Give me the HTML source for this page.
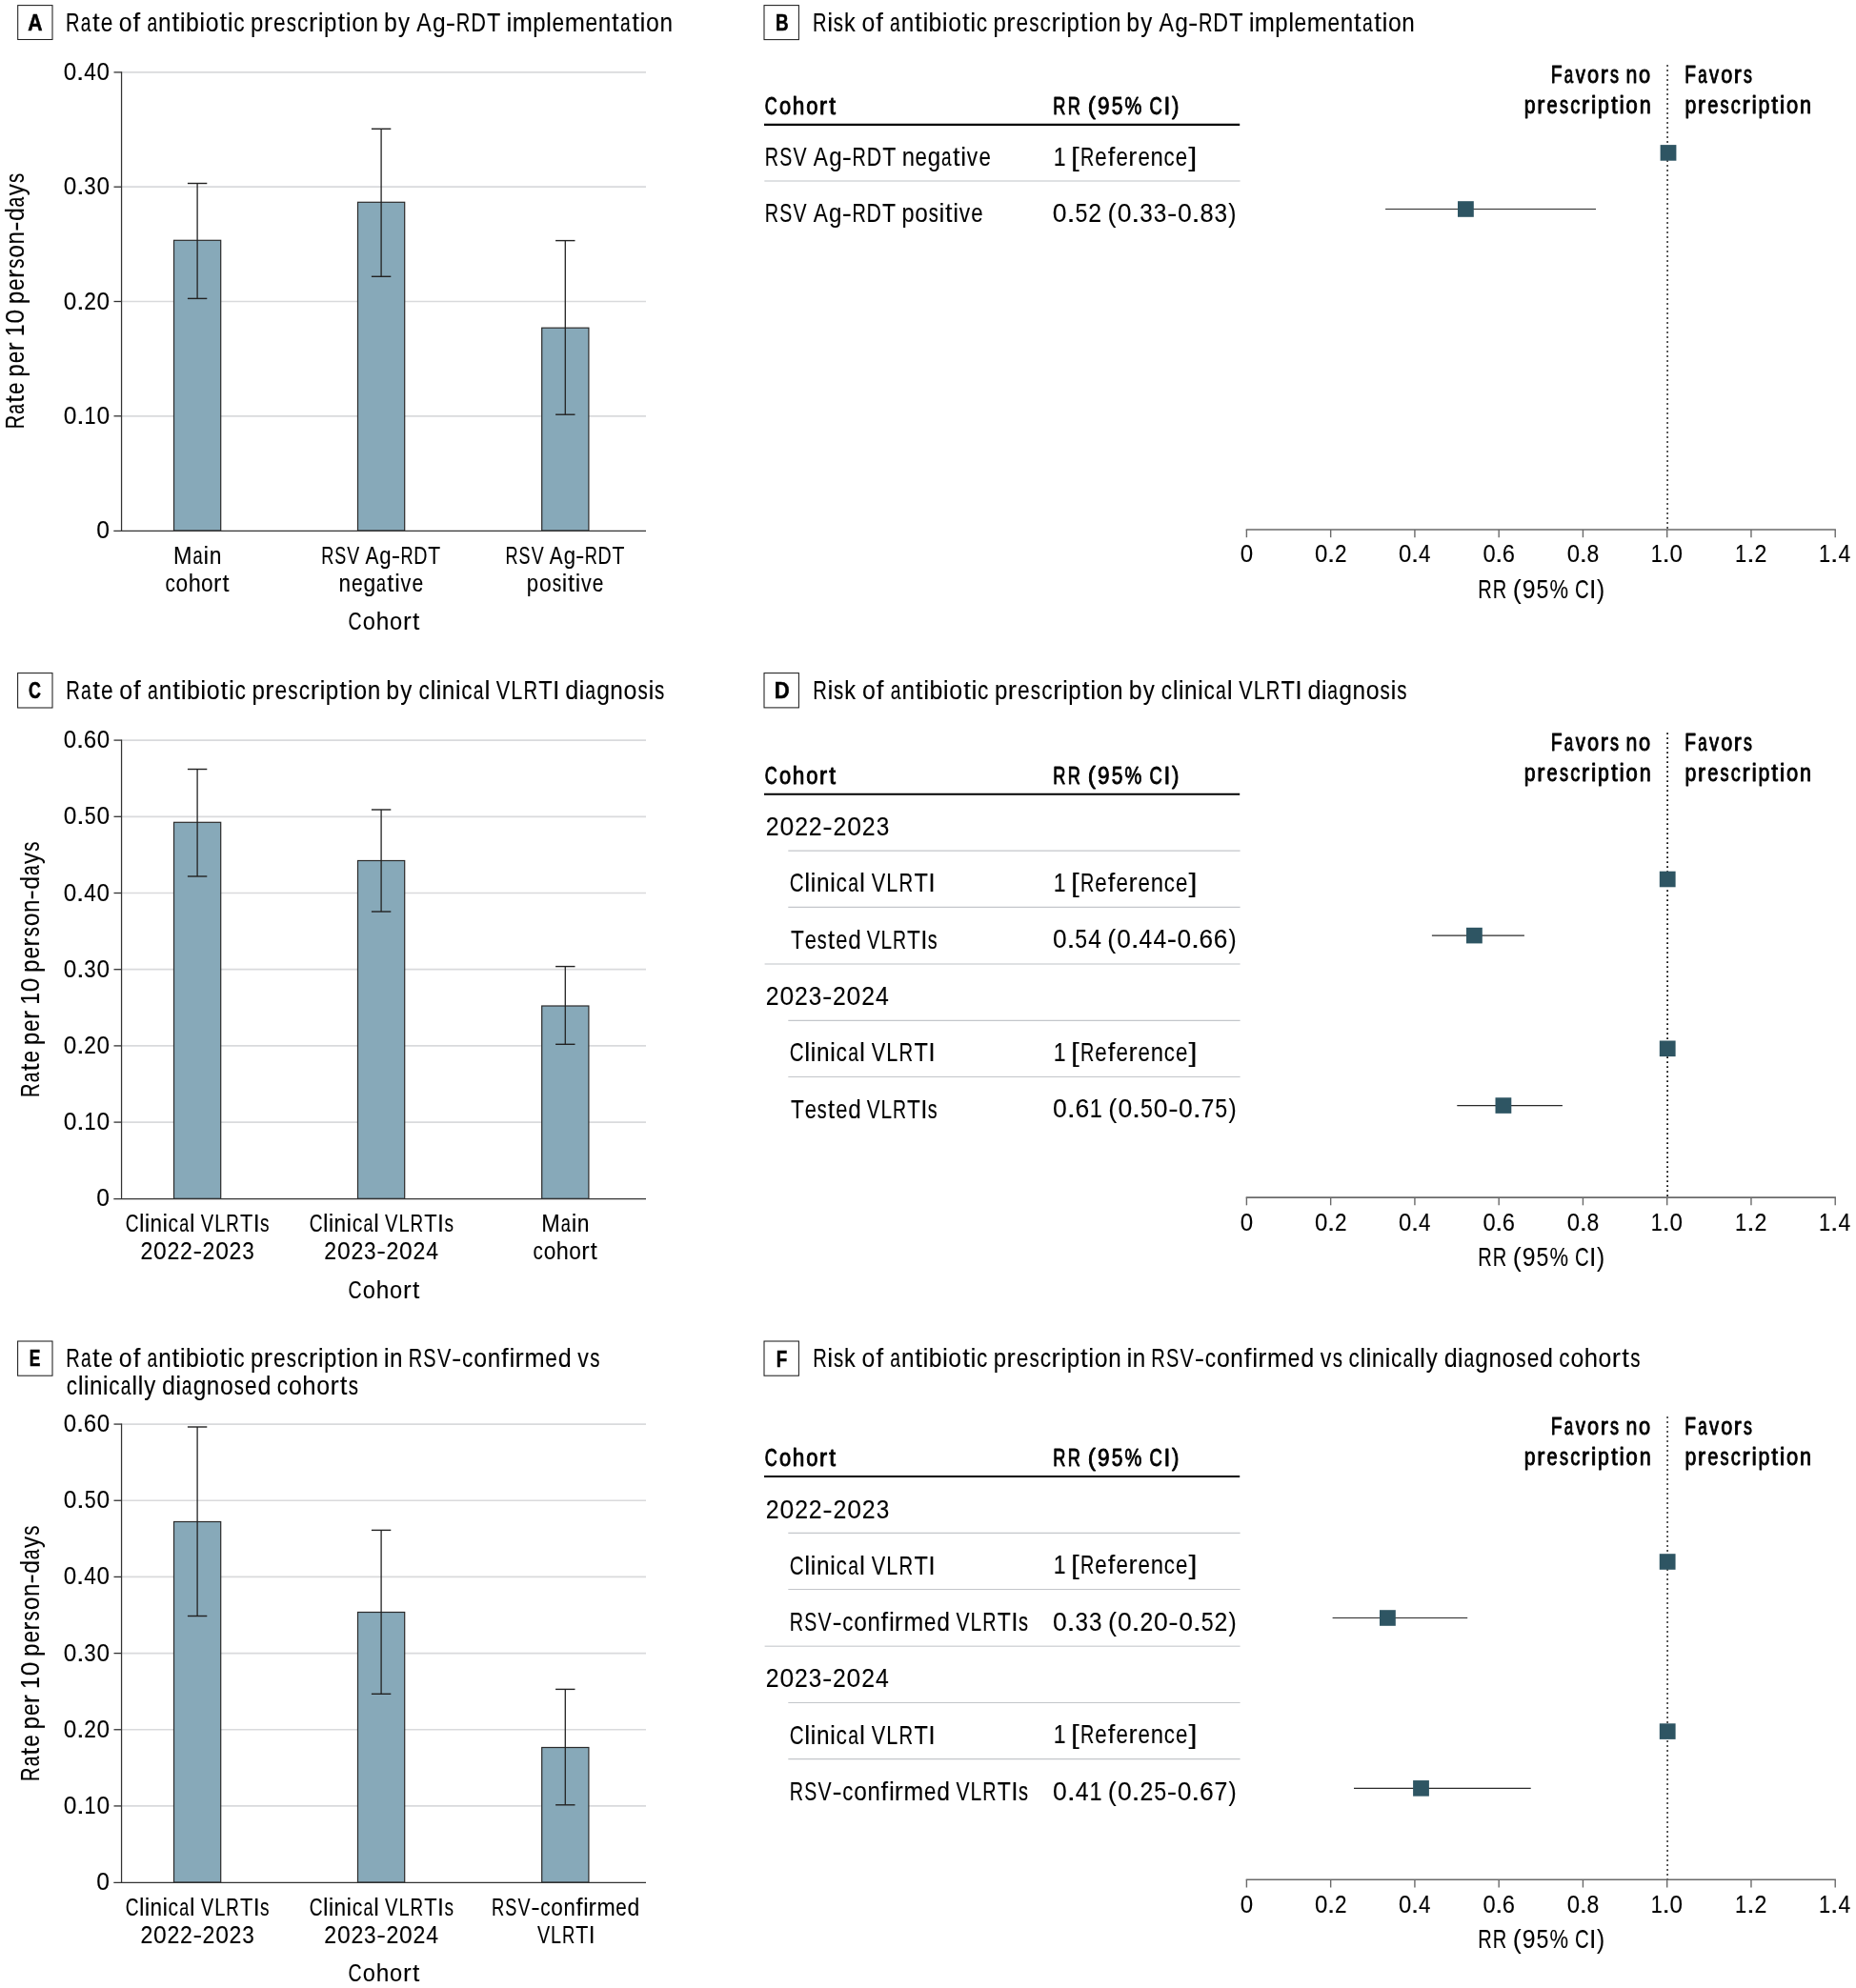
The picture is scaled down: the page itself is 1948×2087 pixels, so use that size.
<!DOCTYPE html>
<html><head><meta charset="utf-8"><style>
html,body{margin:0;padding:0;background:#fff;}
svg{display:block;will-change:transform;}
text{font-family:"Liberation Sans",sans-serif;fill:#000;font-kerning:none;}
.f0{font-size:24.5px;font-weight:bold;}.f1{font-size:27.5px;stroke:#000;stroke-width:0.1px;}.f2{font-size:25.1px;stroke:#000;stroke-width:0.1px;}.f3{font-size:25.3px;stroke:#000;stroke-width:0.1px;}.f4{font-size:27.8px;stroke:#000;stroke-width:0.1px;}.f5{font-size:25.9px;stroke:#000;stroke-width:0.1px;}.f6{font-size:27.0px;stroke:#000;stroke-width:0.1px;}.f7{font-size:25.0px;stroke:#000;stroke-width:0.1px;}
.boxl{stroke:#000;stroke-width:0.55px;}
.semi{stroke:#000;stroke-width:0.9px;stroke-linejoin:round;}
</style></head><body>
<svg width="1948" height="2087" viewBox="0 0 1948 2087">
<rect x="0" y="0" width="1948" height="2087" fill="#fff"/>
<rect x="18.70" y="5.60" width="36.30" height="35.90" fill="none" stroke="#1e1e1e" stroke-width="1.05"/>
<text class="f0 boxl" transform="matrix(0.864 0 0 1 29.27 32.00)">A</text>
<text class="f1" transform="matrix(0.732 0 0 1 69.05 32.90)">R</text>
<text class="f1" transform="matrix(0.702 0 0 1 84.79 32.90)">a</text>
<text class="f1" transform="matrix(1.003 0 0 1 96.89 32.90)">t</text>
<text class="f1" transform="matrix(0.823 0 0 1 105.71 32.90)">e</text>
<text class="f1" transform="matrix(0.903 0 0 1 124.79 32.90)">o</text>
<text class="f1" transform="matrix(1.003 0 0 1 139.59 32.90)">f</text>
<text class="f1" transform="matrix(0.702 0 0 1 154.39 32.90)">a</text>
<text class="f1" transform="matrix(0.883 0 0 1 166.11 32.90)">n</text>
<text class="f1" transform="matrix(1.003 0 0 1 180.43 32.90)">t</text>
<text class="f1" transform="matrix(0.973 0 0 1 188.82 32.90)">i</text>
<text class="f1" transform="matrix(0.903 0 0 1 195.01 32.90)">b</text>
<text class="f1" transform="matrix(0.973 0 0 1 209.26 32.90)">i</text>
<text class="f1" transform="matrix(0.903 0 0 1 215.64 32.90)">o</text>
<text class="f1" transform="matrix(1.003 0 0 1 230.43 32.90)">t</text>
<text class="f1" transform="matrix(0.973 0 0 1 238.82 32.90)">i</text>
<text class="f1" transform="matrix(0.823 0 0 1 245.29 32.90)">c</text>
<text class="f1" transform="matrix(0.873 0 0 1 263.06 32.90)">p</text>
<text class="f1" transform="matrix(1.003 0 0 1 276.84 32.90)">r</text>
<text class="f1" transform="matrix(0.823 0 0 1 287.08 32.90)">e</text>
<text class="f1" transform="matrix(0.742 0 0 1 300.78 32.90)">s</text>
<text class="f1" transform="matrix(0.823 0 0 1 312.08 32.90)">c</text>
<text class="f1" transform="matrix(1.003 0 0 1 323.98 32.90)">r</text>
<text class="f1" transform="matrix(0.973 0 0 1 333.78 32.90)">i</text>
<text class="f1" transform="matrix(0.873 0 0 1 340.02 32.90)">p</text>
<text class="f1" transform="matrix(1.003 0 0 1 354.39 32.90)">t</text>
<text class="f1" transform="matrix(0.973 0 0 1 362.78 32.90)">i</text>
<text class="f1" transform="matrix(0.903 0 0 1 369.16 32.90)">o</text>
<text class="f1" transform="matrix(0.883 0 0 1 383.58 32.90)">n</text>
<text class="f1" transform="matrix(0.903 0 0 1 403.04 32.90)">b</text>
<text class="f1" transform="matrix(0.873 0 0 1 417.99 32.90)">y</text>
<text class="f1" transform="matrix(0.843 0 0 1 437.30 32.90)">A</text>
<text class="f1" transform="matrix(0.893 0 0 1 453.91 32.90)">g</text>
<text class="f1" transform="matrix(1.134 0 0 1 467.87 32.90)">-</text>
<text class="f1" transform="matrix(0.732 0 0 1 478.77 32.90)">R</text>
<text class="f1" transform="matrix(0.792 0 0 1 494.18 32.90)">D</text>
<text class="f1" transform="matrix(0.853 0 0 1 511.01 32.90)">T</text>
<text class="f1" transform="matrix(0.973 0 0 1 531.59 32.90)">i</text>
<text class="f1" transform="matrix(0.923 0 0 1 537.72 32.90)">m</text>
<text class="f1" transform="matrix(0.873 0 0 1 559.26 32.90)">p</text>
<text class="f1" transform="matrix(0.973 0 0 1 573.08 32.90)">l</text>
<text class="f1" transform="matrix(0.823 0 0 1 579.56 32.90)">e</text>
<text class="f1" transform="matrix(0.923 0 0 1 592.75 32.90)">m</text>
<text class="f1" transform="matrix(0.823 0 0 1 614.53 32.90)">e</text>
<text class="f1" transform="matrix(0.883 0 0 1 627.80 32.90)">n</text>
<text class="f1" transform="matrix(1.003 0 0 1 642.12 32.90)">t</text>
<text class="f1" transform="matrix(0.702 0 0 1 651.09 32.90)">a</text>
<text class="f1" transform="matrix(1.003 0 0 1 663.18 32.90)">t</text>
<text class="f1" transform="matrix(0.973 0 0 1 671.57 32.90)">i</text>
<text class="f1" transform="matrix(0.903 0 0 1 677.96 32.90)">o</text>
<text class="f1" transform="matrix(0.883 0 0 1 692.38 32.90)">n</text>
<line x1="127.55" y1="436.80" x2="678.00" y2="436.80" stroke="#d9dadc" stroke-width="1.7"/>
<line x1="127.55" y1="316.50" x2="678.00" y2="316.50" stroke="#d9dadc" stroke-width="1.7"/>
<line x1="127.55" y1="196.20" x2="678.00" y2="196.20" stroke="#d9dadc" stroke-width="1.7"/>
<line x1="127.55" y1="75.90" x2="678.00" y2="75.90" stroke="#d9dadc" stroke-width="1.7"/>
<rect x="182.50" y="252.30" width="49.20" height="304.80" fill="#87a9b9" stroke="#2b2b2b" stroke-width="1.2"/>
<rect x="375.50" y="212.30" width="49.20" height="344.80" fill="#87a9b9" stroke="#2b2b2b" stroke-width="1.2"/>
<rect x="568.70" y="344.20" width="49.20" height="212.90" fill="#87a9b9" stroke="#2b2b2b" stroke-width="1.2"/>
<line x1="207.10" y1="192.50" x2="207.10" y2="313.40" stroke="#222" stroke-width="1.3"/>
<line x1="196.90" y1="192.50" x2="217.30" y2="192.50" stroke="#222" stroke-width="1.4"/>
<line x1="196.90" y1="313.40" x2="217.30" y2="313.40" stroke="#222" stroke-width="1.4"/>
<line x1="400.10" y1="135.30" x2="400.10" y2="290.30" stroke="#222" stroke-width="1.3"/>
<line x1="389.90" y1="135.30" x2="410.30" y2="135.30" stroke="#222" stroke-width="1.4"/>
<line x1="389.90" y1="290.30" x2="410.30" y2="290.30" stroke="#222" stroke-width="1.4"/>
<line x1="593.30" y1="252.60" x2="593.30" y2="435.20" stroke="#222" stroke-width="1.3"/>
<line x1="583.10" y1="252.60" x2="603.50" y2="252.60" stroke="#222" stroke-width="1.4"/>
<line x1="583.10" y1="435.20" x2="603.50" y2="435.20" stroke="#222" stroke-width="1.4"/>
<line x1="127.55" y1="75.30" x2="127.55" y2="558.05" stroke="#333" stroke-width="1.25"/>
<line x1="119.30" y1="557.45" x2="678.00" y2="557.45" stroke="#333" stroke-width="1.25"/>
<line x1="119.50" y1="436.80" x2="127.55" y2="436.80" stroke="#333" stroke-width="1.3"/>
<line x1="119.50" y1="316.50" x2="127.55" y2="316.50" stroke="#333" stroke-width="1.3"/>
<line x1="119.50" y1="196.20" x2="127.55" y2="196.20" stroke="#333" stroke-width="1.3"/>
<line x1="119.50" y1="75.90" x2="127.55" y2="75.90" stroke="#333" stroke-width="1.3"/>
<text class="f2" transform="matrix(0.983 0 0 1 101.34 565.10)">0</text>
<text class="f2" transform="matrix(0.978 0 0 1 66.84 444.80)">0</text>
<text class="f2" transform="matrix(1.274 0 0 1 80.12 444.80)">.</text>
<text class="f2" transform="matrix(0.866 0 0 1 88.50 444.80)">1</text>
<text class="f2" transform="matrix(0.978 0 0 1 101.41 444.80)">0</text>
<text class="f2" transform="matrix(0.968 0 0 1 66.85 324.50)">0</text>
<text class="f2" transform="matrix(1.260 0 0 1 79.90 324.50)">.</text>
<text class="f2" transform="matrix(0.907 0 0 1 88.20 324.50)">2</text>
<text class="f2" transform="matrix(0.968 0 0 1 101.54 324.50)">0</text>
<text class="f2" transform="matrix(0.969 0 0 1 66.85 204.20)">0</text>
<text class="f2" transform="matrix(1.262 0 0 1 79.93 204.20)">.</text>
<text class="f2" transform="matrix(0.888 0 0 1 88.37 204.20)">3</text>
<text class="f2" transform="matrix(0.969 0 0 1 101.53 204.20)">0</text>
<text class="f2" transform="matrix(0.963 0 0 1 66.86 83.90)">0</text>
<text class="f2" transform="matrix(1.253 0 0 1 79.79 83.90)">.</text>
<text class="f2" transform="matrix(0.902 0 0 1 88.21 83.90)">4</text>
<text class="f2" transform="matrix(0.963 0 0 1 101.61 83.90)">0</text>
<text class="f3" transform="matrix(0.925 0 0 1 182.08 591.50)">M</text>
<text class="f3" transform="matrix(0.720 0 0 1 202.46 591.50)">a</text>
<text class="f3" transform="matrix(0.997 0 0 1 213.54 591.50)">i</text>
<text class="f3" transform="matrix(0.905 0 0 1 219.66 591.50)">n</text>
<text class="f3" transform="matrix(0.817 0 0 1 173.42 620.70)">c</text>
<text class="f3" transform="matrix(0.897 0 0 1 184.62 620.70)">o</text>
<text class="f3" transform="matrix(0.927 0 0 1 197.64 620.70)">h</text>
<text class="f3" transform="matrix(0.897 0 0 1 211.12 620.70)">o</text>
<text class="f3" transform="matrix(0.996 0 0 1 224.05 620.70)">r</text>
<text class="f3" transform="matrix(0.996 0 0 1 233.48 620.70)">t</text>
<text class="f3" transform="matrix(0.718 0 0 1 337.31 591.50)">R</text>
<text class="f3" transform="matrix(0.708 0 0 1 351.32 591.50)">S</text>
<text class="f3" transform="matrix(0.767 0 0 1 364.35 591.50)">V</text>
<text class="f3" transform="matrix(0.826 0 0 1 383.49 591.50)">A</text>
<text class="f3" transform="matrix(0.875 0 0 1 398.35 591.50)">g</text>
<text class="f3" transform="matrix(1.111 0 0 1 410.78 591.50)">-</text>
<text class="f3" transform="matrix(0.718 0 0 1 420.42 591.50)">R</text>
<text class="f3" transform="matrix(0.777 0 0 1 434.14 591.50)">D</text>
<text class="f3" transform="matrix(0.836 0 0 1 449.17 591.50)">T</text>
<text class="f3" transform="matrix(0.892 0 0 1 355.60 620.70)">n</text>
<text class="f3" transform="matrix(0.831 0 0 1 368.91 620.70)">e</text>
<text class="f3" transform="matrix(0.902 0 0 1 381.50 620.70)">g</text>
<text class="f3" transform="matrix(0.709 0 0 1 395.07 620.70)">a</text>
<text class="f3" transform="matrix(1.013 0 0 1 406.36 620.70)">t</text>
<text class="f3" transform="matrix(0.983 0 0 1 414.24 620.70)">i</text>
<text class="f3" transform="matrix(0.851 0 0 1 420.57 620.70)">v</text>
<text class="f3" transform="matrix(0.831 0 0 1 432.54 620.70)">e</text>
<text class="f3" transform="matrix(0.718 0 0 1 530.61 591.50)">R</text>
<text class="f3" transform="matrix(0.708 0 0 1 544.62 591.50)">S</text>
<text class="f3" transform="matrix(0.767 0 0 1 557.65 591.50)">V</text>
<text class="f3" transform="matrix(0.826 0 0 1 576.79 591.50)">A</text>
<text class="f3" transform="matrix(0.875 0 0 1 591.65 591.50)">g</text>
<text class="f3" transform="matrix(1.111 0 0 1 604.08 591.50)">-</text>
<text class="f3" transform="matrix(0.718 0 0 1 613.72 591.50)">R</text>
<text class="f3" transform="matrix(0.777 0 0 1 627.44 591.50)">D</text>
<text class="f3" transform="matrix(0.836 0 0 1 642.47 591.50)">T</text>
<text class="f3" transform="matrix(0.876 0 0 1 552.87 620.70)">p</text>
<text class="f3" transform="matrix(0.907 0 0 1 566.00 620.70)">o</text>
<text class="f3" transform="matrix(0.745 0 0 1 579.74 620.70)">s</text>
<text class="f3" transform="matrix(0.977 0 0 1 589.81 620.70)">i</text>
<text class="f3" transform="matrix(1.007 0 0 1 595.92 620.70)">t</text>
<text class="f3" transform="matrix(0.977 0 0 1 603.70 620.70)">i</text>
<text class="f3" transform="matrix(0.846 0 0 1 609.95 620.70)">v</text>
<text class="f3" transform="matrix(0.826 0 0 1 621.81 620.70)">e</text>
<text class="f3" transform="matrix(0.768 0 0 1 365.41 661.30)">C</text>
<text class="f3" transform="matrix(0.934 0 0 1 380.69 661.30)">o</text>
<text class="f3" transform="matrix(0.965 0 0 1 394.64 661.30)">h</text>
<text class="f3" transform="matrix(0.934 0 0 1 409.07 661.30)">o</text>
<text class="f3" transform="matrix(1.038 0 0 1 422.93 661.30)">r</text>
<text class="f3" transform="matrix(1.038 0 0 1 433.00 661.30)">t</text>
<text class="f4" transform="matrix(0 -0.721 1 0 24.60 450.24)">R</text>
<text class="f4" transform="matrix(0 -0.691 1 0 24.60 434.67)">a</text>
<text class="f4" transform="matrix(0 -0.987 1 0 24.60 422.69)">t</text>
<text class="f4" transform="matrix(0 -0.810 1 0 24.60 413.97)">e</text>
<text class="f4" transform="matrix(0 -0.859 1 0 24.60 395.44)">p</text>
<text class="f4" transform="matrix(0 -0.810 1 0 24.60 381.33)">e</text>
<text class="f4" transform="matrix(0 -0.987 1 0 24.60 368.45)">r</text>
<text class="f4" transform="matrix(0 -0.839 1 0 24.60 353.21)">1</text>
<text class="f4" transform="matrix(0 -0.948 1 0 24.60 339.56)">0</text>
<text class="f4" transform="matrix(0 -0.859 1 0 24.60 319.00)">p</text>
<text class="f4" transform="matrix(0 -0.810 1 0 24.60 304.89)">e</text>
<text class="f4" transform="matrix(0 -0.987 1 0 24.60 292.00)">r</text>
<text class="f4" transform="matrix(0 -0.731 1 0 24.60 281.72)">s</text>
<text class="f4" transform="matrix(0 -0.888 1 0 24.60 270.65)">o</text>
<text class="f4" transform="matrix(0 -0.869 1 0 24.60 256.40)">n</text>
<text class="f4" transform="matrix(0 -1.116 1 0 24.60 242.74)">-</text>
<text class="f4" transform="matrix(0 -0.898 1 0 24.60 232.03)">d</text>
<text class="f4" transform="matrix(0 -0.691 1 0 24.60 217.43)">a</text>
<text class="f4" transform="matrix(0 -0.859 1 0 24.60 205.29)">y</text>
<text class="f4" transform="matrix(0 -0.731 1 0 24.60 192.02)">s</text>
<rect x="18.60" y="706.60" width="36.40" height="36.40" fill="none" stroke="#1e1e1e" stroke-width="1.05"/>
<text class="f0 boxl" transform="matrix(0.730 0 0 1 30.07 733.40)">C</text>
<text class="f1" transform="matrix(0.736 0 0 1 69.14 733.80)">R</text>
<text class="f1" transform="matrix(0.706 0 0 1 84.97 733.80)">a</text>
<text class="f1" transform="matrix(1.008 0 0 1 97.14 733.80)">t</text>
<text class="f1" transform="matrix(0.827 0 0 1 106.02 733.80)">e</text>
<text class="f1" transform="matrix(0.907 0 0 1 125.23 733.80)">o</text>
<text class="f1" transform="matrix(1.008 0 0 1 140.12 733.80)">f</text>
<text class="f1" transform="matrix(0.706 0 0 1 155.03 733.80)">a</text>
<text class="f1" transform="matrix(0.887 0 0 1 166.82 733.80)">n</text>
<text class="f1" transform="matrix(1.008 0 0 1 181.23 733.80)">t</text>
<text class="f1" transform="matrix(0.978 0 0 1 189.68 733.80)">i</text>
<text class="f1" transform="matrix(0.907 0 0 1 195.91 733.80)">b</text>
<text class="f1" transform="matrix(0.978 0 0 1 210.25 733.80)">i</text>
<text class="f1" transform="matrix(0.907 0 0 1 216.68 733.80)">o</text>
<text class="f1" transform="matrix(1.008 0 0 1 231.55 733.80)">t</text>
<text class="f1" transform="matrix(0.978 0 0 1 240.00 733.80)">i</text>
<text class="f1" transform="matrix(0.827 0 0 1 246.52 733.80)">c</text>
<text class="f1" transform="matrix(0.877 0 0 1 264.42 733.80)">p</text>
<text class="f1" transform="matrix(1.008 0 0 1 278.28 733.80)">r</text>
<text class="f1" transform="matrix(0.827 0 0 1 288.59 733.80)">e</text>
<text class="f1" transform="matrix(0.746 0 0 1 302.36 733.80)">s</text>
<text class="f1" transform="matrix(0.827 0 0 1 313.73 733.80)">c</text>
<text class="f1" transform="matrix(1.008 0 0 1 325.70 733.80)">r</text>
<text class="f1" transform="matrix(0.978 0 0 1 335.57 733.80)">i</text>
<text class="f1" transform="matrix(0.877 0 0 1 341.86 733.80)">p</text>
<text class="f1" transform="matrix(1.008 0 0 1 356.31 733.80)">t</text>
<text class="f1" transform="matrix(0.978 0 0 1 364.76 733.80)">i</text>
<text class="f1" transform="matrix(0.907 0 0 1 371.19 733.80)">o</text>
<text class="f1" transform="matrix(0.887 0 0 1 385.70 733.80)">n</text>
<text class="f1" transform="matrix(0.907 0 0 1 405.30 733.80)">b</text>
<text class="f1" transform="matrix(0.877 0 0 1 420.33 733.80)">y</text>
<text class="f1" transform="matrix(0.827 0 0 1 439.42 733.80)">c</text>
<text class="f1" transform="matrix(0.978 0 0 1 451.43 733.80)">l</text>
<text class="f1" transform="matrix(0.978 0 0 1 457.52 733.80)">i</text>
<text class="f1" transform="matrix(0.887 0 0 1 463.77 733.80)">n</text>
<text class="f1" transform="matrix(0.978 0 0 1 477.64 733.80)">i</text>
<text class="f1" transform="matrix(0.827 0 0 1 484.16 733.80)">c</text>
<text class="f1" transform="matrix(0.706 0 0 1 496.76 733.80)">a</text>
<text class="f1" transform="matrix(0.978 0 0 1 508.38 733.80)">l</text>
<text class="f1" transform="matrix(0.786 0 0 1 520.87 733.80)">V</text>
<text class="f1" transform="matrix(0.786 0 0 1 536.37 733.80)">L</text>
<text class="f1" transform="matrix(0.736 0 0 1 549.43 733.80)">R</text>
<text class="f1" transform="matrix(0.857 0 0 1 565.23 733.80)">T</text>
<text class="f1" transform="matrix(0.978 0 0 1 580.01 733.80)">I</text>
<text class="f1" transform="matrix(0.917 0 0 1 593.24 733.80)">d</text>
<text class="f1" transform="matrix(0.978 0 0 1 607.52 733.80)">i</text>
<text class="f1" transform="matrix(0.706 0 0 1 614.18 733.80)">a</text>
<text class="f1" transform="matrix(0.897 0 0 1 626.16 733.80)">g</text>
<text class="f1" transform="matrix(0.887 0 0 1 640.33 733.80)">n</text>
<text class="f1" transform="matrix(0.907 0 0 1 654.54 733.80)">o</text>
<text class="f1" transform="matrix(0.746 0 0 1 669.48 733.80)">s</text>
<text class="f1" transform="matrix(0.978 0 0 1 680.41 733.80)">i</text>
<text class="f1" transform="matrix(0.746 0 0 1 687.08 733.80)">s</text>
<line x1="127.55" y1="1178.10" x2="678.00" y2="1178.10" stroke="#d9dadc" stroke-width="1.7"/>
<line x1="127.55" y1="1097.90" x2="678.00" y2="1097.90" stroke="#d9dadc" stroke-width="1.7"/>
<line x1="127.55" y1="1017.70" x2="678.00" y2="1017.70" stroke="#d9dadc" stroke-width="1.7"/>
<line x1="127.55" y1="937.50" x2="678.00" y2="937.50" stroke="#d9dadc" stroke-width="1.7"/>
<line x1="127.55" y1="857.30" x2="678.00" y2="857.30" stroke="#d9dadc" stroke-width="1.7"/>
<line x1="127.55" y1="777.10" x2="678.00" y2="777.10" stroke="#d9dadc" stroke-width="1.7"/>
<rect x="182.50" y="863.30" width="49.20" height="395.00" fill="#87a9b9" stroke="#2b2b2b" stroke-width="1.2"/>
<rect x="375.50" y="903.50" width="49.20" height="354.80" fill="#87a9b9" stroke="#2b2b2b" stroke-width="1.2"/>
<rect x="568.70" y="1056.00" width="49.20" height="202.30" fill="#87a9b9" stroke="#2b2b2b" stroke-width="1.2"/>
<line x1="207.10" y1="807.50" x2="207.10" y2="920.00" stroke="#222" stroke-width="1.3"/>
<line x1="196.90" y1="807.50" x2="217.30" y2="807.50" stroke="#222" stroke-width="1.4"/>
<line x1="196.90" y1="920.00" x2="217.30" y2="920.00" stroke="#222" stroke-width="1.4"/>
<line x1="400.10" y1="850.00" x2="400.10" y2="957.00" stroke="#222" stroke-width="1.3"/>
<line x1="389.90" y1="850.00" x2="410.30" y2="850.00" stroke="#222" stroke-width="1.4"/>
<line x1="389.90" y1="957.00" x2="410.30" y2="957.00" stroke="#222" stroke-width="1.4"/>
<line x1="593.30" y1="1014.60" x2="593.30" y2="1096.30" stroke="#222" stroke-width="1.3"/>
<line x1="583.10" y1="1014.60" x2="603.50" y2="1014.60" stroke="#222" stroke-width="1.4"/>
<line x1="583.10" y1="1096.30" x2="603.50" y2="1096.30" stroke="#222" stroke-width="1.4"/>
<line x1="127.55" y1="776.50" x2="127.55" y2="1259.10" stroke="#333" stroke-width="1.25"/>
<line x1="119.30" y1="1258.50" x2="678.00" y2="1258.50" stroke="#333" stroke-width="1.25"/>
<line x1="119.50" y1="1178.10" x2="127.55" y2="1178.10" stroke="#333" stroke-width="1.3"/>
<line x1="119.50" y1="1097.90" x2="127.55" y2="1097.90" stroke="#333" stroke-width="1.3"/>
<line x1="119.50" y1="1017.70" x2="127.55" y2="1017.70" stroke="#333" stroke-width="1.3"/>
<line x1="119.50" y1="937.50" x2="127.55" y2="937.50" stroke="#333" stroke-width="1.3"/>
<line x1="119.50" y1="857.30" x2="127.55" y2="857.30" stroke="#333" stroke-width="1.3"/>
<line x1="119.50" y1="777.10" x2="127.55" y2="777.10" stroke="#333" stroke-width="1.3"/>
<text class="f2" transform="matrix(0.983 0 0 1 101.34 1266.30)">0</text>
<text class="f2" transform="matrix(0.978 0 0 1 66.84 1186.10)">0</text>
<text class="f2" transform="matrix(1.274 0 0 1 80.12 1186.10)">.</text>
<text class="f2" transform="matrix(0.866 0 0 1 88.50 1186.10)">1</text>
<text class="f2" transform="matrix(0.978 0 0 1 101.41 1186.10)">0</text>
<text class="f2" transform="matrix(0.968 0 0 1 66.85 1105.90)">0</text>
<text class="f2" transform="matrix(1.260 0 0 1 79.90 1105.90)">.</text>
<text class="f2" transform="matrix(0.907 0 0 1 88.20 1105.90)">2</text>
<text class="f2" transform="matrix(0.968 0 0 1 101.54 1105.90)">0</text>
<text class="f2" transform="matrix(0.969 0 0 1 66.85 1025.70)">0</text>
<text class="f2" transform="matrix(1.262 0 0 1 79.93 1025.70)">.</text>
<text class="f2" transform="matrix(0.888 0 0 1 88.37 1025.70)">3</text>
<text class="f2" transform="matrix(0.969 0 0 1 101.53 1025.70)">0</text>
<text class="f2" transform="matrix(0.963 0 0 1 66.86 945.50)">0</text>
<text class="f2" transform="matrix(1.253 0 0 1 79.79 945.50)">.</text>
<text class="f2" transform="matrix(0.902 0 0 1 88.21 945.50)">4</text>
<text class="f2" transform="matrix(0.963 0 0 1 101.61 945.50)">0</text>
<text class="f2" transform="matrix(0.975 0 0 1 66.84 865.30)">0</text>
<text class="f2" transform="matrix(1.270 0 0 1 80.08 865.30)">.</text>
<text class="f2" transform="matrix(0.853 0 0 1 88.66 865.30)">5</text>
<text class="f2" transform="matrix(0.975 0 0 1 101.44 865.30)">0</text>
<text class="f2" transform="matrix(0.958 0 0 1 66.86 785.10)">0</text>
<text class="f2" transform="matrix(1.247 0 0 1 79.68 785.10)">.</text>
<text class="f2" transform="matrix(0.958 0 0 1 87.72 785.10)">6</text>
<text class="f2" transform="matrix(0.958 0 0 1 101.67 785.10)">0</text>
<text class="f3" transform="matrix(0.752 0 0 1 131.63 1292.70)">C</text>
<text class="f3" transform="matrix(0.986 0 0 1 146.02 1292.70)">l</text>
<text class="f3" transform="matrix(0.986 0 0 1 151.71 1292.70)">i</text>
<text class="f3" transform="matrix(0.894 0 0 1 157.55 1292.70)">n</text>
<text class="f3" transform="matrix(0.986 0 0 1 170.44 1292.70)">i</text>
<text class="f3" transform="matrix(0.833 0 0 1 176.53 1292.70)">c</text>
<text class="f3" transform="matrix(0.711 0 0 1 188.24 1292.70)">a</text>
<text class="f3" transform="matrix(0.986 0 0 1 199.04 1292.70)">l</text>
<text class="f3" transform="matrix(0.793 0 0 1 210.72 1292.70)">V</text>
<text class="f3" transform="matrix(0.793 0 0 1 225.13 1292.70)">L</text>
<text class="f3" transform="matrix(0.742 0 0 1 237.27 1292.70)">R</text>
<text class="f3" transform="matrix(0.864 0 0 1 251.96 1292.70)">T</text>
<text class="f3" transform="matrix(0.986 0 0 1 265.70 1292.70)">I</text>
<text class="f3" transform="matrix(0.752 0 0 1 273.08 1292.70)">s</text>
<text class="f3" transform="matrix(0.912 0 0 1 147.54 1321.90)">2</text>
<text class="f3" transform="matrix(0.973 0 0 1 161.11 1321.90)">0</text>
<text class="f3" transform="matrix(0.912 0 0 1 175.54 1321.90)">2</text>
<text class="f3" transform="matrix(0.912 0 0 1 189.09 1321.90)">2</text>
<text class="f3" transform="matrix(1.146 0 0 1 202.43 1321.90)">-</text>
<text class="f3" transform="matrix(0.912 0 0 1 212.57 1321.90)">2</text>
<text class="f3" transform="matrix(0.973 0 0 1 226.15 1321.90)">0</text>
<text class="f3" transform="matrix(0.912 0 0 1 240.58 1321.90)">2</text>
<text class="f3" transform="matrix(0.892 0 0 1 254.24 1321.90)">3</text>
<text class="f3" transform="matrix(0.753 0 0 1 324.63 1292.70)">C</text>
<text class="f3" transform="matrix(0.987 0 0 1 339.05 1292.70)">l</text>
<text class="f3" transform="matrix(0.987 0 0 1 344.76 1292.70)">i</text>
<text class="f3" transform="matrix(0.896 0 0 1 350.62 1292.70)">n</text>
<text class="f3" transform="matrix(0.987 0 0 1 363.55 1292.70)">i</text>
<text class="f3" transform="matrix(0.835 0 0 1 369.65 1292.70)">c</text>
<text class="f3" transform="matrix(0.713 0 0 1 381.40 1292.70)">a</text>
<text class="f3" transform="matrix(0.987 0 0 1 392.22 1292.70)">l</text>
<text class="f3" transform="matrix(0.794 0 0 1 403.95 1292.70)">V</text>
<text class="f3" transform="matrix(0.794 0 0 1 418.39 1292.70)">L</text>
<text class="f3" transform="matrix(0.743 0 0 1 430.56 1292.70)">R</text>
<text class="f3" transform="matrix(0.865 0 0 1 445.29 1292.70)">T</text>
<text class="f3" transform="matrix(0.987 0 0 1 459.06 1292.70)">I</text>
<text class="f3" transform="matrix(0.753 0 0 1 466.46 1292.70)">s</text>
<text class="f3" transform="matrix(0.913 0 0 1 340.34 1321.90)">2</text>
<text class="f3" transform="matrix(0.974 0 0 1 353.94 1321.90)">0</text>
<text class="f3" transform="matrix(0.913 0 0 1 368.39 1321.90)">2</text>
<text class="f3" transform="matrix(0.893 0 0 1 382.08 1321.90)">3</text>
<text class="f3" transform="matrix(1.147 0 0 1 395.22 1321.90)">-</text>
<text class="f3" transform="matrix(0.913 0 0 1 405.39 1321.90)">2</text>
<text class="f3" transform="matrix(0.974 0 0 1 418.99 1321.90)">0</text>
<text class="f3" transform="matrix(0.913 0 0 1 433.45 1321.90)">2</text>
<text class="f3" transform="matrix(0.913 0 0 1 447.23 1321.90)">4</text>
<text class="f3" transform="matrix(0.925 0 0 1 568.28 1292.70)">M</text>
<text class="f3" transform="matrix(0.720 0 0 1 588.66 1292.70)">a</text>
<text class="f3" transform="matrix(0.997 0 0 1 599.74 1292.70)">i</text>
<text class="f3" transform="matrix(0.905 0 0 1 605.86 1292.70)">n</text>
<text class="f3" transform="matrix(0.817 0 0 1 559.62 1321.90)">c</text>
<text class="f3" transform="matrix(0.897 0 0 1 570.82 1321.90)">o</text>
<text class="f3" transform="matrix(0.927 0 0 1 583.84 1321.90)">h</text>
<text class="f3" transform="matrix(0.897 0 0 1 597.32 1321.90)">o</text>
<text class="f3" transform="matrix(0.996 0 0 1 610.25 1321.90)">r</text>
<text class="f3" transform="matrix(0.996 0 0 1 619.68 1321.90)">t</text>
<text class="f3" transform="matrix(0.768 0 0 1 365.41 1362.50)">C</text>
<text class="f3" transform="matrix(0.934 0 0 1 380.69 1362.50)">o</text>
<text class="f3" transform="matrix(0.965 0 0 1 394.64 1362.50)">h</text>
<text class="f3" transform="matrix(0.934 0 0 1 409.07 1362.50)">o</text>
<text class="f3" transform="matrix(1.038 0 0 1 422.93 1362.50)">r</text>
<text class="f3" transform="matrix(1.038 0 0 1 433.00 1362.50)">t</text>
<text class="f4" transform="matrix(0 -0.721 1 0 41.00 1151.89)">R</text>
<text class="f4" transform="matrix(0 -0.691 1 0 41.00 1136.32)">a</text>
<text class="f4" transform="matrix(0 -0.987 1 0 41.00 1124.34)">t</text>
<text class="f4" transform="matrix(0 -0.810 1 0 41.00 1115.62)">e</text>
<text class="f4" transform="matrix(0 -0.859 1 0 41.00 1097.09)">p</text>
<text class="f4" transform="matrix(0 -0.810 1 0 41.00 1082.98)">e</text>
<text class="f4" transform="matrix(0 -0.987 1 0 41.00 1070.10)">r</text>
<text class="f4" transform="matrix(0 -0.839 1 0 41.00 1054.86)">1</text>
<text class="f4" transform="matrix(0 -0.948 1 0 41.00 1041.21)">0</text>
<text class="f4" transform="matrix(0 -0.859 1 0 41.00 1020.65)">p</text>
<text class="f4" transform="matrix(0 -0.810 1 0 41.00 1006.54)">e</text>
<text class="f4" transform="matrix(0 -0.987 1 0 41.00 993.65)">r</text>
<text class="f4" transform="matrix(0 -0.731 1 0 41.00 983.37)">s</text>
<text class="f4" transform="matrix(0 -0.888 1 0 41.00 972.30)">o</text>
<text class="f4" transform="matrix(0 -0.869 1 0 41.00 958.05)">n</text>
<text class="f4" transform="matrix(0 -1.116 1 0 41.00 944.39)">-</text>
<text class="f4" transform="matrix(0 -0.898 1 0 41.00 933.68)">d</text>
<text class="f4" transform="matrix(0 -0.691 1 0 41.00 919.08)">a</text>
<text class="f4" transform="matrix(0 -0.859 1 0 41.00 906.94)">y</text>
<text class="f4" transform="matrix(0 -0.731 1 0 41.00 893.67)">s</text>
<rect x="18.60" y="1408.00" width="36.40" height="36.20" fill="none" stroke="#1e1e1e" stroke-width="1.05"/>
<text class="f0 boxl" transform="matrix(0.713 0 0 1 30.83 1434.40)">E</text>
<text class="f1" transform="matrix(0.732 0 0 1 69.15 1435.00)">R</text>
<text class="f1" transform="matrix(0.702 0 0 1 84.88 1435.00)">a</text>
<text class="f1" transform="matrix(1.003 0 0 1 96.97 1435.00)">t</text>
<text class="f1" transform="matrix(0.822 0 0 1 105.80 1435.00)">e</text>
<text class="f1" transform="matrix(0.903 0 0 1 124.86 1435.00)">o</text>
<text class="f1" transform="matrix(1.003 0 0 1 139.66 1435.00)">f</text>
<text class="f1" transform="matrix(0.702 0 0 1 154.44 1435.00)">a</text>
<text class="f1" transform="matrix(0.882 0 0 1 166.16 1435.00)">n</text>
<text class="f1" transform="matrix(1.003 0 0 1 180.47 1435.00)">t</text>
<text class="f1" transform="matrix(0.973 0 0 1 188.86 1435.00)">i</text>
<text class="f1" transform="matrix(0.903 0 0 1 195.04 1435.00)">b</text>
<text class="f1" transform="matrix(0.973 0 0 1 209.28 1435.00)">i</text>
<text class="f1" transform="matrix(0.903 0 0 1 215.66 1435.00)">o</text>
<text class="f1" transform="matrix(1.003 0 0 1 230.45 1435.00)">t</text>
<text class="f1" transform="matrix(0.973 0 0 1 238.83 1435.00)">i</text>
<text class="f1" transform="matrix(0.822 0 0 1 245.30 1435.00)">c</text>
<text class="f1" transform="matrix(0.872 0 0 1 263.06 1435.00)">p</text>
<text class="f1" transform="matrix(1.003 0 0 1 276.82 1435.00)">r</text>
<text class="f1" transform="matrix(0.822 0 0 1 287.06 1435.00)">e</text>
<text class="f1" transform="matrix(0.742 0 0 1 300.75 1435.00)">s</text>
<text class="f1" transform="matrix(0.822 0 0 1 312.05 1435.00)">c</text>
<text class="f1" transform="matrix(1.003 0 0 1 323.94 1435.00)">r</text>
<text class="f1" transform="matrix(0.973 0 0 1 333.74 1435.00)">i</text>
<text class="f1" transform="matrix(0.872 0 0 1 339.97 1435.00)">p</text>
<text class="f1" transform="matrix(1.003 0 0 1 354.33 1435.00)">t</text>
<text class="f1" transform="matrix(0.973 0 0 1 362.72 1435.00)">i</text>
<text class="f1" transform="matrix(0.903 0 0 1 369.10 1435.00)">o</text>
<text class="f1" transform="matrix(0.882 0 0 1 383.51 1435.00)">n</text>
<text class="f1" transform="matrix(0.973 0 0 1 402.80 1435.00)">i</text>
<text class="f1" transform="matrix(0.882 0 0 1 409.00 1435.00)">n</text>
<text class="f1" transform="matrix(0.732 0 0 1 428.64 1435.00)">R</text>
<text class="f1" transform="matrix(0.722 0 0 1 444.34 1435.00)">S</text>
<text class="f1" transform="matrix(0.782 0 0 1 458.91 1435.00)">V</text>
<text class="f1" transform="matrix(1.133 0 0 1 474.09 1435.00)">-</text>
<text class="f1" transform="matrix(0.822 0 0 1 485.04 1435.00)">c</text>
<text class="f1" transform="matrix(0.903 0 0 1 497.34 1435.00)">o</text>
<text class="f1" transform="matrix(0.882 0 0 1 511.75 1435.00)">n</text>
<text class="f1" transform="matrix(1.003 0 0 1 526.07 1435.00)">f</text>
<text class="f1" transform="matrix(0.973 0 0 1 534.56 1435.00)">i</text>
<text class="f1" transform="matrix(1.003 0 0 1 540.54 1435.00)">r</text>
<text class="f1" transform="matrix(0.923 0 0 1 550.44 1435.00)">m</text>
<text class="f1" transform="matrix(0.822 0 0 1 572.20 1435.00)">e</text>
<text class="f1" transform="matrix(0.913 0 0 1 585.63 1435.00)">d</text>
<text class="f1" transform="matrix(0.842 0 0 1 606.17 1435.00)">v</text>
<text class="f1" transform="matrix(0.742 0 0 1 619.13 1435.00)">s</text>
<text class="f1" transform="matrix(0.823 0 0 1 69.84 1464.10)">c</text>
<text class="f1" transform="matrix(0.973 0 0 1 81.79 1464.10)">l</text>
<text class="f1" transform="matrix(0.973 0 0 1 87.83 1464.10)">i</text>
<text class="f1" transform="matrix(0.883 0 0 1 94.03 1464.10)">n</text>
<text class="f1" transform="matrix(0.973 0 0 1 107.82 1464.10)">i</text>
<text class="f1" transform="matrix(0.823 0 0 1 114.29 1464.10)">c</text>
<text class="f1" transform="matrix(0.702 0 0 1 126.82 1464.10)">a</text>
<text class="f1" transform="matrix(0.973 0 0 1 138.37 1464.10)">l</text>
<text class="f1" transform="matrix(0.973 0 0 1 144.41 1464.10)">l</text>
<text class="f1" transform="matrix(0.873 0 0 1 151.15 1464.10)">y</text>
<text class="f1" transform="matrix(0.913 0 0 1 170.01 1464.10)">d</text>
<text class="f1" transform="matrix(0.973 0 0 1 184.20 1464.10)">i</text>
<text class="f1" transform="matrix(0.702 0 0 1 190.81 1464.10)">a</text>
<text class="f1" transform="matrix(0.893 0 0 1 202.73 1464.10)">g</text>
<text class="f1" transform="matrix(0.883 0 0 1 216.82 1464.10)">n</text>
<text class="f1" transform="matrix(0.903 0 0 1 230.95 1464.10)">o</text>
<text class="f1" transform="matrix(0.743 0 0 1 245.80 1464.10)">s</text>
<text class="f1" transform="matrix(0.823 0 0 1 257.11 1464.10)">e</text>
<text class="f1" transform="matrix(0.913 0 0 1 270.55 1464.10)">d</text>
<text class="f1" transform="matrix(0.823 0 0 1 290.76 1464.10)">c</text>
<text class="f1" transform="matrix(0.903 0 0 1 303.06 1464.10)">o</text>
<text class="f1" transform="matrix(0.933 0 0 1 317.37 1464.10)">h</text>
<text class="f1" transform="matrix(0.903 0 0 1 332.18 1464.10)">o</text>
<text class="f1" transform="matrix(1.003 0 0 1 346.38 1464.10)">r</text>
<text class="f1" transform="matrix(1.003 0 0 1 356.74 1464.10)">t</text>
<text class="f1" transform="matrix(0.743 0 0 1 365.73 1464.10)">s</text>
<line x1="127.55" y1="1895.93" x2="678.00" y2="1895.93" stroke="#d9dadc" stroke-width="1.7"/>
<line x1="127.55" y1="1815.76" x2="678.00" y2="1815.76" stroke="#d9dadc" stroke-width="1.7"/>
<line x1="127.55" y1="1735.59" x2="678.00" y2="1735.59" stroke="#d9dadc" stroke-width="1.7"/>
<line x1="127.55" y1="1655.42" x2="678.00" y2="1655.42" stroke="#d9dadc" stroke-width="1.7"/>
<line x1="127.55" y1="1575.25" x2="678.00" y2="1575.25" stroke="#d9dadc" stroke-width="1.7"/>
<line x1="127.55" y1="1495.08" x2="678.00" y2="1495.08" stroke="#d9dadc" stroke-width="1.7"/>
<rect x="182.50" y="1597.50" width="49.20" height="378.60" fill="#87a9b9" stroke="#2b2b2b" stroke-width="1.2"/>
<rect x="375.50" y="1692.50" width="49.20" height="283.60" fill="#87a9b9" stroke="#2b2b2b" stroke-width="1.2"/>
<rect x="568.70" y="1834.50" width="49.20" height="141.60" fill="#87a9b9" stroke="#2b2b2b" stroke-width="1.2"/>
<line x1="207.10" y1="1498.00" x2="207.10" y2="1696.50" stroke="#222" stroke-width="1.3"/>
<line x1="196.90" y1="1498.00" x2="217.30" y2="1498.00" stroke="#222" stroke-width="1.4"/>
<line x1="196.90" y1="1696.50" x2="217.30" y2="1696.50" stroke="#222" stroke-width="1.4"/>
<line x1="400.10" y1="1606.40" x2="400.10" y2="1778.30" stroke="#222" stroke-width="1.3"/>
<line x1="389.90" y1="1606.40" x2="410.30" y2="1606.40" stroke="#222" stroke-width="1.4"/>
<line x1="389.90" y1="1778.30" x2="410.30" y2="1778.30" stroke="#222" stroke-width="1.4"/>
<line x1="593.30" y1="1773.40" x2="593.30" y2="1894.80" stroke="#222" stroke-width="1.3"/>
<line x1="583.10" y1="1773.40" x2="603.50" y2="1773.40" stroke="#222" stroke-width="1.4"/>
<line x1="583.10" y1="1894.80" x2="603.50" y2="1894.80" stroke="#222" stroke-width="1.4"/>
<line x1="127.55" y1="1494.48" x2="127.55" y2="1977.05" stroke="#333" stroke-width="1.25"/>
<line x1="119.30" y1="1976.45" x2="678.00" y2="1976.45" stroke="#333" stroke-width="1.25"/>
<line x1="119.50" y1="1895.93" x2="127.55" y2="1895.93" stroke="#333" stroke-width="1.3"/>
<line x1="119.50" y1="1815.76" x2="127.55" y2="1815.76" stroke="#333" stroke-width="1.3"/>
<line x1="119.50" y1="1735.59" x2="127.55" y2="1735.59" stroke="#333" stroke-width="1.3"/>
<line x1="119.50" y1="1655.42" x2="127.55" y2="1655.42" stroke="#333" stroke-width="1.3"/>
<line x1="119.50" y1="1575.25" x2="127.55" y2="1575.25" stroke="#333" stroke-width="1.3"/>
<line x1="119.50" y1="1495.08" x2="127.55" y2="1495.08" stroke="#333" stroke-width="1.3"/>
<text class="f2" transform="matrix(0.983 0 0 1 101.34 1984.10)">0</text>
<text class="f2" transform="matrix(0.978 0 0 1 66.84 1903.93)">0</text>
<text class="f2" transform="matrix(1.274 0 0 1 80.12 1903.93)">.</text>
<text class="f2" transform="matrix(0.866 0 0 1 88.50 1903.93)">1</text>
<text class="f2" transform="matrix(0.978 0 0 1 101.41 1903.93)">0</text>
<text class="f2" transform="matrix(0.968 0 0 1 66.85 1823.76)">0</text>
<text class="f2" transform="matrix(1.260 0 0 1 79.90 1823.76)">.</text>
<text class="f2" transform="matrix(0.907 0 0 1 88.20 1823.76)">2</text>
<text class="f2" transform="matrix(0.968 0 0 1 101.54 1823.76)">0</text>
<text class="f2" transform="matrix(0.969 0 0 1 66.85 1743.59)">0</text>
<text class="f2" transform="matrix(1.262 0 0 1 79.93 1743.59)">.</text>
<text class="f2" transform="matrix(0.888 0 0 1 88.37 1743.59)">3</text>
<text class="f2" transform="matrix(0.969 0 0 1 101.53 1743.59)">0</text>
<text class="f2" transform="matrix(0.963 0 0 1 66.86 1663.42)">0</text>
<text class="f2" transform="matrix(1.253 0 0 1 79.79 1663.42)">.</text>
<text class="f2" transform="matrix(0.902 0 0 1 88.21 1663.42)">4</text>
<text class="f2" transform="matrix(0.963 0 0 1 101.61 1663.42)">0</text>
<text class="f2" transform="matrix(0.975 0 0 1 66.84 1583.25)">0</text>
<text class="f2" transform="matrix(1.270 0 0 1 80.08 1583.25)">.</text>
<text class="f2" transform="matrix(0.853 0 0 1 88.66 1583.25)">5</text>
<text class="f2" transform="matrix(0.975 0 0 1 101.44 1583.25)">0</text>
<text class="f2" transform="matrix(0.958 0 0 1 66.86 1503.08)">0</text>
<text class="f2" transform="matrix(1.247 0 0 1 79.68 1503.08)">.</text>
<text class="f2" transform="matrix(0.958 0 0 1 87.72 1503.08)">6</text>
<text class="f2" transform="matrix(0.958 0 0 1 101.67 1503.08)">0</text>
<text class="f3" transform="matrix(0.752 0 0 1 131.63 2010.50)">C</text>
<text class="f3" transform="matrix(0.986 0 0 1 146.02 2010.50)">l</text>
<text class="f3" transform="matrix(0.986 0 0 1 151.71 2010.50)">i</text>
<text class="f3" transform="matrix(0.894 0 0 1 157.55 2010.50)">n</text>
<text class="f3" transform="matrix(0.986 0 0 1 170.44 2010.50)">i</text>
<text class="f3" transform="matrix(0.833 0 0 1 176.53 2010.50)">c</text>
<text class="f3" transform="matrix(0.711 0 0 1 188.24 2010.50)">a</text>
<text class="f3" transform="matrix(0.986 0 0 1 199.04 2010.50)">l</text>
<text class="f3" transform="matrix(0.793 0 0 1 210.72 2010.50)">V</text>
<text class="f3" transform="matrix(0.793 0 0 1 225.13 2010.50)">L</text>
<text class="f3" transform="matrix(0.742 0 0 1 237.27 2010.50)">R</text>
<text class="f3" transform="matrix(0.864 0 0 1 251.96 2010.50)">T</text>
<text class="f3" transform="matrix(0.986 0 0 1 265.70 2010.50)">I</text>
<text class="f3" transform="matrix(0.752 0 0 1 273.08 2010.50)">s</text>
<text class="f3" transform="matrix(0.912 0 0 1 147.54 2039.70)">2</text>
<text class="f3" transform="matrix(0.973 0 0 1 161.11 2039.70)">0</text>
<text class="f3" transform="matrix(0.912 0 0 1 175.54 2039.70)">2</text>
<text class="f3" transform="matrix(0.912 0 0 1 189.09 2039.70)">2</text>
<text class="f3" transform="matrix(1.146 0 0 1 202.43 2039.70)">-</text>
<text class="f3" transform="matrix(0.912 0 0 1 212.57 2039.70)">2</text>
<text class="f3" transform="matrix(0.973 0 0 1 226.15 2039.70)">0</text>
<text class="f3" transform="matrix(0.912 0 0 1 240.58 2039.70)">2</text>
<text class="f3" transform="matrix(0.892 0 0 1 254.24 2039.70)">3</text>
<text class="f3" transform="matrix(0.753 0 0 1 324.63 2010.50)">C</text>
<text class="f3" transform="matrix(0.987 0 0 1 339.05 2010.50)">l</text>
<text class="f3" transform="matrix(0.987 0 0 1 344.76 2010.50)">i</text>
<text class="f3" transform="matrix(0.896 0 0 1 350.62 2010.50)">n</text>
<text class="f3" transform="matrix(0.987 0 0 1 363.55 2010.50)">i</text>
<text class="f3" transform="matrix(0.835 0 0 1 369.65 2010.50)">c</text>
<text class="f3" transform="matrix(0.713 0 0 1 381.40 2010.50)">a</text>
<text class="f3" transform="matrix(0.987 0 0 1 392.22 2010.50)">l</text>
<text class="f3" transform="matrix(0.794 0 0 1 403.95 2010.50)">V</text>
<text class="f3" transform="matrix(0.794 0 0 1 418.39 2010.50)">L</text>
<text class="f3" transform="matrix(0.743 0 0 1 430.56 2010.50)">R</text>
<text class="f3" transform="matrix(0.865 0 0 1 445.29 2010.50)">T</text>
<text class="f3" transform="matrix(0.987 0 0 1 459.06 2010.50)">I</text>
<text class="f3" transform="matrix(0.753 0 0 1 466.46 2010.50)">s</text>
<text class="f3" transform="matrix(0.913 0 0 1 340.34 2039.70)">2</text>
<text class="f3" transform="matrix(0.974 0 0 1 353.94 2039.70)">0</text>
<text class="f3" transform="matrix(0.913 0 0 1 368.39 2039.70)">2</text>
<text class="f3" transform="matrix(0.893 0 0 1 382.08 2039.70)">3</text>
<text class="f3" transform="matrix(1.147 0 0 1 395.22 2039.70)">-</text>
<text class="f3" transform="matrix(0.913 0 0 1 405.39 2039.70)">2</text>
<text class="f3" transform="matrix(0.974 0 0 1 418.99 2039.70)">0</text>
<text class="f3" transform="matrix(0.913 0 0 1 433.45 2039.70)">2</text>
<text class="f3" transform="matrix(0.913 0 0 1 447.23 2039.70)">4</text>
<text class="f3" transform="matrix(0.726 0 0 1 515.99 2010.50)">R</text>
<text class="f3" transform="matrix(0.716 0 0 1 530.25 2010.50)">S</text>
<text class="f3" transform="matrix(0.775 0 0 1 543.49 2010.50)">V</text>
<text class="f3" transform="matrix(1.123 0 0 1 557.28 2010.50)">-</text>
<text class="f3" transform="matrix(0.815 0 0 1 567.21 2010.50)">c</text>
<text class="f3" transform="matrix(0.894 0 0 1 578.36 2010.50)">o</text>
<text class="f3" transform="matrix(0.875 0 0 1 591.44 2010.50)">n</text>
<text class="f3" transform="matrix(0.994 0 0 1 604.45 2010.50)">f</text>
<text class="f3" transform="matrix(0.964 0 0 1 612.14 2010.50)">i</text>
<text class="f3" transform="matrix(0.994 0 0 1 617.51 2010.50)">r</text>
<text class="f3" transform="matrix(0.914 0 0 1 626.48 2010.50)">m</text>
<text class="f3" transform="matrix(0.815 0 0 1 646.26 2010.50)">e</text>
<text class="f3" transform="matrix(0.904 0 0 1 658.45 2010.50)">d</text>
<text class="f3" transform="matrix(0.779 0 0 1 564.01 2039.70)">V</text>
<text class="f3" transform="matrix(0.779 0 0 1 578.10 2039.70)">L</text>
<text class="f3" transform="matrix(0.729 0 0 1 589.96 2039.70)">R</text>
<text class="f3" transform="matrix(0.849 0 0 1 604.33 2039.70)">T</text>
<text class="f3" transform="matrix(0.969 0 0 1 617.75 2039.70)">I</text>
<text class="f3" transform="matrix(0.768 0 0 1 365.41 2080.30)">C</text>
<text class="f3" transform="matrix(0.934 0 0 1 380.69 2080.30)">o</text>
<text class="f3" transform="matrix(0.965 0 0 1 394.64 2080.30)">h</text>
<text class="f3" transform="matrix(0.934 0 0 1 409.07 2080.30)">o</text>
<text class="f3" transform="matrix(1.038 0 0 1 422.93 2080.30)">r</text>
<text class="f3" transform="matrix(1.038 0 0 1 433.00 2080.30)">t</text>
<text class="f4" transform="matrix(0 -0.721 1 0 41.00 1869.94)">R</text>
<text class="f4" transform="matrix(0 -0.691 1 0 41.00 1854.37)">a</text>
<text class="f4" transform="matrix(0 -0.987 1 0 41.00 1842.39)">t</text>
<text class="f4" transform="matrix(0 -0.810 1 0 41.00 1833.67)">e</text>
<text class="f4" transform="matrix(0 -0.859 1 0 41.00 1815.14)">p</text>
<text class="f4" transform="matrix(0 -0.810 1 0 41.00 1801.03)">e</text>
<text class="f4" transform="matrix(0 -0.987 1 0 41.00 1788.15)">r</text>
<text class="f4" transform="matrix(0 -0.839 1 0 41.00 1772.91)">1</text>
<text class="f4" transform="matrix(0 -0.948 1 0 41.00 1759.26)">0</text>
<text class="f4" transform="matrix(0 -0.859 1 0 41.00 1738.70)">p</text>
<text class="f4" transform="matrix(0 -0.810 1 0 41.00 1724.59)">e</text>
<text class="f4" transform="matrix(0 -0.987 1 0 41.00 1711.70)">r</text>
<text class="f4" transform="matrix(0 -0.731 1 0 41.00 1701.42)">s</text>
<text class="f4" transform="matrix(0 -0.888 1 0 41.00 1690.35)">o</text>
<text class="f4" transform="matrix(0 -0.869 1 0 41.00 1676.10)">n</text>
<text class="f4" transform="matrix(0 -1.116 1 0 41.00 1662.44)">-</text>
<text class="f4" transform="matrix(0 -0.898 1 0 41.00 1651.73)">d</text>
<text class="f4" transform="matrix(0 -0.691 1 0 41.00 1637.13)">a</text>
<text class="f4" transform="matrix(0 -0.859 1 0 41.00 1624.99)">y</text>
<text class="f4" transform="matrix(0 -0.731 1 0 41.00 1611.72)">s</text>
<rect x="802.00" y="5.60" width="36.40" height="36.00" fill="none" stroke="#1e1e1e" stroke-width="1.05"/>
<text class="f0 boxl" transform="matrix(0.770 0 0 1 814.04 31.80)">B</text>
<text class="f1" transform="matrix(0.732 0 0 1 853.05 32.90)">R</text>
<text class="f1" transform="matrix(0.972 0 0 1 868.19 32.90)">i</text>
<text class="f1" transform="matrix(0.742 0 0 1 874.81 32.90)">s</text>
<text class="f1" transform="matrix(0.852 0 0 1 885.88 32.90)">k</text>
<text class="f1" transform="matrix(0.902 0 0 1 904.47 32.90)">o</text>
<text class="f1" transform="matrix(1.002 0 0 1 919.25 32.90)">f</text>
<text class="f1" transform="matrix(0.702 0 0 1 934.02 32.90)">a</text>
<text class="f1" transform="matrix(0.882 0 0 1 945.73 32.90)">n</text>
<text class="f1" transform="matrix(1.002 0 0 1 960.03 32.90)">t</text>
<text class="f1" transform="matrix(0.972 0 0 1 968.41 32.90)">i</text>
<text class="f1" transform="matrix(0.902 0 0 1 974.59 32.90)">b</text>
<text class="f1" transform="matrix(0.972 0 0 1 988.82 32.90)">i</text>
<text class="f1" transform="matrix(0.902 0 0 1 995.19 32.90)">o</text>
<text class="f1" transform="matrix(1.002 0 0 1 1009.97 32.90)">t</text>
<text class="f1" transform="matrix(0.972 0 0 1 1018.35 32.90)">i</text>
<text class="f1" transform="matrix(0.822 0 0 1 1024.81 32.90)">c</text>
<text class="f1" transform="matrix(0.872 0 0 1 1042.55 32.90)">p</text>
<text class="f1" transform="matrix(1.002 0 0 1 1056.30 32.90)">r</text>
<text class="f1" transform="matrix(0.822 0 0 1 1066.53 32.90)">e</text>
<text class="f1" transform="matrix(0.742 0 0 1 1080.21 32.90)">s</text>
<text class="f1" transform="matrix(0.822 0 0 1 1091.50 32.90)">c</text>
<text class="f1" transform="matrix(1.002 0 0 1 1103.38 32.90)">r</text>
<text class="f1" transform="matrix(0.972 0 0 1 1113.17 32.90)">i</text>
<text class="f1" transform="matrix(0.872 0 0 1 1119.40 32.90)">p</text>
<text class="f1" transform="matrix(1.002 0 0 1 1133.75 32.90)">t</text>
<text class="f1" transform="matrix(0.972 0 0 1 1142.13 32.90)">i</text>
<text class="f1" transform="matrix(0.902 0 0 1 1148.50 32.90)">o</text>
<text class="f1" transform="matrix(0.882 0 0 1 1162.90 32.90)">n</text>
<text class="f1" transform="matrix(0.902 0 0 1 1182.33 32.90)">b</text>
<text class="f1" transform="matrix(0.872 0 0 1 1197.26 32.90)">y</text>
<text class="f1" transform="matrix(0.842 0 0 1 1216.54 32.90)">A</text>
<text class="f1" transform="matrix(0.892 0 0 1 1233.13 32.90)">g</text>
<text class="f1" transform="matrix(1.133 0 0 1 1247.08 32.90)">-</text>
<text class="f1" transform="matrix(0.732 0 0 1 1257.96 32.90)">R</text>
<text class="f1" transform="matrix(0.792 0 0 1 1273.35 32.90)">D</text>
<text class="f1" transform="matrix(0.852 0 0 1 1290.16 32.90)">T</text>
<text class="f1" transform="matrix(0.972 0 0 1 1310.71 32.90)">i</text>
<text class="f1" transform="matrix(0.922 0 0 1 1316.83 32.90)">m</text>
<text class="f1" transform="matrix(0.872 0 0 1 1338.34 32.90)">p</text>
<text class="f1" transform="matrix(0.972 0 0 1 1352.14 32.90)">l</text>
<text class="f1" transform="matrix(0.822 0 0 1 1358.61 32.90)">e</text>
<text class="f1" transform="matrix(0.922 0 0 1 1371.79 32.90)">m</text>
<text class="f1" transform="matrix(0.822 0 0 1 1393.54 32.90)">e</text>
<text class="f1" transform="matrix(0.882 0 0 1 1406.79 32.90)">n</text>
<text class="f1" transform="matrix(1.002 0 0 1 1421.09 32.90)">t</text>
<text class="f1" transform="matrix(0.702 0 0 1 1430.05 32.90)">a</text>
<text class="f1" transform="matrix(1.002 0 0 1 1442.13 32.90)">t</text>
<text class="f1" transform="matrix(0.972 0 0 1 1450.51 32.90)">i</text>
<text class="f1" transform="matrix(0.902 0 0 1 1456.88 32.90)">o</text>
<text class="f1" transform="matrix(0.882 0 0 1 1471.29 32.90)">n</text>
<text class="f5 semi" transform="matrix(0.695 0 0 1 802.74 119.80)">C</text>
<text class="f5 semi" transform="matrix(0.846 0 0 1 817.88 119.80)">o</text>
<text class="f5 semi" transform="matrix(0.874 0 0 1 831.83 119.80)">h</text>
<text class="f5 semi" transform="matrix(0.846 0 0 1 846.21 119.80)">o</text>
<text class="f5 semi" transform="matrix(0.941 0 0 1 860.06 119.80)">r</text>
<text class="f5 semi" transform="matrix(0.941 0 0 1 870.36 119.80)">t</text>
<text class="f5 semi" transform="matrix(0.704 0 0 1 1105.25 119.80)">R</text>
<text class="f5 semi" transform="matrix(0.704 0 0 1 1120.74 119.80)">R</text>
<text class="f5 semi" transform="matrix(0.948 0 0 1 1141.70 119.80)">(</text>
<text class="f5 semi" transform="matrix(0.869 0 0 1 1152.06 119.80)">9</text>
<text class="f5 semi" transform="matrix(0.811 0 0 1 1166.63 119.80)">5</text>
<text class="f5 semi" transform="matrix(0.771 0 0 1 1180.52 119.80)">%</text>
<text class="f5 semi" transform="matrix(0.714 0 0 1 1206.46 119.80)">C</text>
<text class="f5 semi" transform="matrix(0.949 0 0 1 1221.53 119.80)">I</text>
<text class="f5 semi" transform="matrix(0.862 0 0 1 1230.10 119.80)">)</text>
<line x1="802.00" y1="130.90" x2="1301.20" y2="130.90" stroke="#000" stroke-width="2.1"/>
<text class="f5 semi" transform="matrix(0.749 0 0 1 1627.76 86.80)">F</text>
<text class="f5 semi" transform="matrix(0.655 0 0 1 1641.81 86.80)">a</text>
<text class="f5 semi" transform="matrix(0.786 0 0 1 1653.64 86.80)">v</text>
<text class="f5 semi" transform="matrix(0.842 0 0 1 1665.95 86.80)">o</text>
<text class="f5 semi" transform="matrix(0.936 0 0 1 1679.67 86.80)">r</text>
<text class="f5 semi" transform="matrix(0.693 0 0 1 1689.95 86.80)">s</text>
<text class="f5 semi" transform="matrix(0.823 0 0 1 1706.38 86.80)">n</text>
<text class="f5 semi" transform="matrix(0.842 0 0 1 1720.04 86.80)">o</text>
<text class="f5 semi" transform="matrix(0.823 0 0 1 1599.78 119.30)">p</text>
<text class="f5 semi" transform="matrix(0.947 0 0 1 1613.30 119.30)">r</text>
<text class="f5 semi" transform="matrix(0.775 0 0 1 1623.60 119.30)">e</text>
<text class="f5 semi" transform="matrix(0.700 0 0 1 1636.99 119.30)">s</text>
<text class="f5 semi" transform="matrix(0.776 0 0 1 1648.26 119.30)">c</text>
<text class="f5 semi" transform="matrix(0.947 0 0 1 1660.09 119.30)">r</text>
<text class="f5 semi" transform="matrix(0.925 0 0 1 1670.04 119.30)">i</text>
<text class="f5 semi" transform="matrix(0.823 0 0 1 1676.95 119.30)">p</text>
<text class="f5 semi" transform="matrix(0.947 0 0 1 1690.90 119.30)">t</text>
<text class="f5 semi" transform="matrix(0.925 0 0 1 1699.57 119.30)">i</text>
<text class="f5 semi" transform="matrix(0.851 0 0 1 1706.57 119.30)">o</text>
<text class="f5 semi" transform="matrix(0.832 0 0 1 1720.66 119.30)">n</text>
<text class="f5 semi" transform="matrix(0.744 0 0 1 1768.27 86.80)">F</text>
<text class="f5 semi" transform="matrix(0.651 0 0 1 1782.24 86.80)">a</text>
<text class="f5 semi" transform="matrix(0.781 0 0 1 1793.99 86.80)">v</text>
<text class="f5 semi" transform="matrix(0.836 0 0 1 1806.23 86.80)">o</text>
<text class="f5 semi" transform="matrix(0.930 0 0 1 1819.87 86.80)">r</text>
<text class="f5 semi" transform="matrix(0.688 0 0 1 1830.08 86.80)">s</text>
<text class="f5 semi" transform="matrix(0.821 0 0 1 1768.48 119.30)">p</text>
<text class="f5 semi" transform="matrix(0.945 0 0 1 1781.96 119.30)">r</text>
<text class="f5 semi" transform="matrix(0.774 0 0 1 1792.23 119.30)">e</text>
<text class="f5 semi" transform="matrix(0.698 0 0 1 1805.58 119.30)">s</text>
<text class="f5 semi" transform="matrix(0.774 0 0 1 1816.82 119.30)">c</text>
<text class="f5 semi" transform="matrix(0.945 0 0 1 1828.61 119.30)">r</text>
<text class="f5 semi" transform="matrix(0.922 0 0 1 1838.53 119.30)">i</text>
<text class="f5 semi" transform="matrix(0.821 0 0 1 1845.41 119.30)">p</text>
<text class="f5 semi" transform="matrix(0.945 0 0 1 1859.32 119.30)">t</text>
<text class="f5 semi" transform="matrix(0.922 0 0 1 1867.97 119.30)">i</text>
<text class="f5 semi" transform="matrix(0.849 0 0 1 1874.93 119.30)">o</text>
<text class="f5 semi" transform="matrix(0.830 0 0 1 1888.99 119.30)">n</text>
<text class="f6" transform="matrix(0.733 0 0 1 802.78 174.20)">R</text>
<text class="f6" transform="matrix(0.722 0 0 1 818.21 174.20)">S</text>
<text class="f6" transform="matrix(0.783 0 0 1 832.54 174.20)">V</text>
<text class="f6" transform="matrix(0.843 0 0 1 853.81 174.20)">A</text>
<text class="f6" transform="matrix(0.893 0 0 1 870.14 174.20)">g</text>
<text class="f6" transform="matrix(1.134 0 0 1 883.86 174.20)">-</text>
<text class="f6" transform="matrix(0.733 0 0 1 894.57 174.20)">R</text>
<text class="f6" transform="matrix(0.793 0 0 1 909.72 174.20)">D</text>
<text class="f6" transform="matrix(0.853 0 0 1 926.25 174.20)">T</text>
<text class="f6" transform="matrix(0.883 0 0 1 946.65 174.20)">n</text>
<text class="f6" transform="matrix(0.823 0 0 1 960.62 174.20)">e</text>
<text class="f6" transform="matrix(0.893 0 0 1 973.85 174.20)">g</text>
<text class="f6" transform="matrix(0.702 0 0 1 988.10 174.20)">a</text>
<text class="f6" transform="matrix(1.003 0 0 1 999.98 174.20)">t</text>
<text class="f6" transform="matrix(0.973 0 0 1 1008.23 174.20)">i</text>
<text class="f6" transform="matrix(0.843 0 0 1 1014.84 174.20)">v</text>
<text class="f6" transform="matrix(0.823 0 0 1 1027.43 174.20)">e</text>
<text class="f6" transform="matrix(0.855 0 0 1 1105.64 173.80)">1</text>
<text class="f6" transform="matrix(1.176 0 0 1 1124.00 173.80)">[</text>
<text class="f6" transform="matrix(0.734 0 0 1 1133.89 173.80)">R</text>
<text class="f6" transform="matrix(0.824 0 0 1 1149.26 173.80)">e</text>
<text class="f6" transform="matrix(1.005 0 0 1 1162.70 173.80)">f</text>
<text class="f6" transform="matrix(0.824 0 0 1 1171.50 173.80)">e</text>
<text class="f6" transform="matrix(1.005 0 0 1 1184.36 173.80)">r</text>
<text class="f6" transform="matrix(0.824 0 0 1 1194.46 173.80)">e</text>
<text class="f6" transform="matrix(0.885 0 0 1 1207.53 173.80)">n</text>
<text class="f6" transform="matrix(0.824 0 0 1 1221.54 173.80)">c</text>
<text class="f6" transform="matrix(0.824 0 0 1 1233.74 173.80)">e</text>
<text class="f6" transform="matrix(1.216 0 0 1 1247.22 173.80)">]</text>
<line x1="802.30" y1="189.90" x2="1301.60" y2="189.90" stroke="#d5d7da" stroke-width="1.5"/>
<text class="f6" transform="matrix(0.732 0 0 1 802.78 232.90)">R</text>
<text class="f6" transform="matrix(0.722 0 0 1 818.19 232.90)">S</text>
<text class="f6" transform="matrix(0.782 0 0 1 832.48 232.90)">V</text>
<text class="f6" transform="matrix(0.842 0 0 1 853.71 232.90)">A</text>
<text class="f6" transform="matrix(0.892 0 0 1 870.00 232.90)">g</text>
<text class="f6" transform="matrix(1.132 0 0 1 883.70 232.90)">-</text>
<text class="f6" transform="matrix(0.732 0 0 1 894.39 232.90)">R</text>
<text class="f6" transform="matrix(0.792 0 0 1 909.50 232.90)">D</text>
<text class="f6" transform="matrix(0.852 0 0 1 926.00 232.90)">T</text>
<text class="f6" transform="matrix(0.872 0 0 1 946.39 232.90)">p</text>
<text class="f6" transform="matrix(0.902 0 0 1 960.29 232.90)">o</text>
<text class="f6" transform="matrix(0.742 0 0 1 974.85 232.90)">s</text>
<text class="f6" transform="matrix(0.972 0 0 1 985.50 232.90)">i</text>
<text class="f6" transform="matrix(1.002 0 0 1 991.95 232.90)">t</text>
<text class="f6" transform="matrix(0.972 0 0 1 1000.18 232.90)">i</text>
<text class="f6" transform="matrix(0.842 0 0 1 1006.78 232.90)">v</text>
<text class="f6" transform="matrix(0.822 0 0 1 1019.35 232.90)">e</text>
<text class="f6" transform="matrix(0.984 0 0 1 1104.86 232.90)">0</text>
<text class="f6" transform="matrix(1.281 0 0 1 1119.21 232.90)">.</text>
<text class="f6" transform="matrix(0.861 0 0 1 1128.51 232.90)">5</text>
<text class="f6" transform="matrix(0.922 0 0 1 1142.35 232.90)">2</text>
<text class="f6" transform="matrix(1.004 0 0 1 1162.53 232.90)">(</text>
<text class="f6" transform="matrix(0.984 0 0 1 1172.71 232.90)">0</text>
<text class="f6" transform="matrix(1.281 0 0 1 1187.05 232.90)">.</text>
<text class="f6" transform="matrix(0.902 0 0 1 1196.33 232.90)">3</text>
<text class="f6" transform="matrix(0.902 0 0 1 1210.84 232.90)">3</text>
<text class="f6" transform="matrix(1.158 0 0 1 1224.99 232.90)">-</text>
<text class="f6" transform="matrix(0.984 0 0 1 1235.96 232.90)">0</text>
<text class="f6" transform="matrix(1.281 0 0 1 1250.31 232.90)">.</text>
<text class="f6" transform="matrix(0.943 0 0 1 1259.49 232.90)">8</text>
<text class="f6" transform="matrix(0.902 0 0 1 1274.57 232.90)">3</text>
<text class="f6" transform="matrix(0.912 0 0 1 1289.33 232.90)">)</text>
<line x1="1750.10" y1="68.15" x2="1750.10" y2="556.00" stroke="#111" stroke-width="1.8" stroke-dasharray="1.7 3.3"/>
<line x1="1307.70" y1="556.00" x2="1926.92" y2="556.00" stroke="#6a6a6a" stroke-width="1.6"/>
<line x1="1308.40" y1="556.00" x2="1308.40" y2="564.20" stroke="#6a6a6a" stroke-width="1.4"/>
<line x1="1396.66" y1="556.00" x2="1396.66" y2="564.20" stroke="#6a6a6a" stroke-width="1.4"/>
<line x1="1484.92" y1="556.00" x2="1484.92" y2="564.20" stroke="#6a6a6a" stroke-width="1.4"/>
<line x1="1573.18" y1="556.00" x2="1573.18" y2="564.20" stroke="#6a6a6a" stroke-width="1.4"/>
<line x1="1661.44" y1="556.00" x2="1661.44" y2="564.20" stroke="#6a6a6a" stroke-width="1.4"/>
<line x1="1749.70" y1="556.00" x2="1749.70" y2="564.20" stroke="#6a6a6a" stroke-width="1.4"/>
<line x1="1837.96" y1="556.00" x2="1837.96" y2="564.20" stroke="#6a6a6a" stroke-width="1.4"/>
<line x1="1926.22" y1="556.00" x2="1926.22" y2="564.20" stroke="#6a6a6a" stroke-width="1.4"/>
<text class="f7" transform="matrix(0.965 0 0 1 1301.69 590.40)">0</text>
<text class="f7" transform="matrix(0.960 0 0 1 1380.03 590.40)">0</text>
<text class="f7" transform="matrix(1.250 0 0 1 1392.85 590.40)">.</text>
<text class="f7" transform="matrix(0.900 0 0 1 1400.97 590.40)">2</text>
<text class="f7" transform="matrix(0.956 0 0 1 1468.04 590.40)">0</text>
<text class="f7" transform="matrix(1.245 0 0 1 1480.78 590.40)">.</text>
<text class="f7" transform="matrix(0.897 0 0 1 1489.05 590.40)">4</text>
<text class="f7" transform="matrix(0.947 0 0 1 1556.49 590.40)">0</text>
<text class="f7" transform="matrix(1.233 0 0 1 1569.01 590.40)">.</text>
<text class="f7" transform="matrix(0.947 0 0 1 1576.82 590.40)">6</text>
<text class="f7" transform="matrix(0.955 0 0 1 1644.73 590.40)">0</text>
<text class="f7" transform="matrix(1.243 0 0 1 1657.43 590.40)">.</text>
<text class="f7" transform="matrix(0.915 0 0 1 1665.49 590.40)">8</text>
<text class="f7" transform="matrix(0.859 0 0 1 1732.69 590.40)">1</text>
<text class="f7" transform="matrix(1.263 0 0 1 1744.22 590.40)">.</text>
<text class="f7" transform="matrix(0.970 0 0 1 1752.54 590.40)">0</text>
<text class="f7" transform="matrix(0.874 0 0 1 1821.05 590.40)">1</text>
<text class="f7" transform="matrix(1.285 0 0 1 1832.92 590.40)">.</text>
<text class="f7" transform="matrix(0.925 0 0 1 1841.50 590.40)">2</text>
<text class="f7" transform="matrix(0.870 0 0 1 1909.07 590.40)">1</text>
<text class="f7" transform="matrix(1.279 0 0 1 1920.87 590.40)">.</text>
<text class="f7" transform="matrix(0.921 0 0 1 1929.59 590.40)">4</text>
<text class="f6" transform="matrix(0.744 0 0 1 1551.25 627.70)">R</text>
<text class="f6" transform="matrix(0.744 0 0 1 1566.84 627.70)">R</text>
<text class="f6" transform="matrix(0.998 0 0 1 1587.78 627.70)">(</text>
<text class="f6" transform="matrix(0.917 0 0 1 1597.86 627.70)">9</text>
<text class="f6" transform="matrix(0.856 0 0 1 1612.53 627.70)">5</text>
<text class="f6" transform="matrix(0.815 0 0 1 1626.45 627.70)">%</text>
<text class="f6" transform="matrix(0.754 0 0 1 1652.93 627.70)">C</text>
<text class="f6" transform="matrix(0.988 0 0 1 1668.09 627.70)">I</text>
<text class="f6" transform="matrix(0.907 0 0 1 1676.07 627.70)">)</text>
<rect x="1742.60" y="152.10" width="16.80" height="16.60" fill="#2e5563"/>
<line x1="1454.10" y1="219.50" x2="1675.00" y2="219.50" stroke="#2a2a2a" stroke-width="1.15"/>
<rect x="1530.00" y="211.20" width="16.80" height="16.60" fill="#2e5563"/>
<rect x="802.00" y="706.60" width="36.40" height="36.30" fill="none" stroke="#1e1e1e" stroke-width="1.05"/>
<text class="f0 boxl" transform="matrix(0.898 0 0 1 812.73 733.00)">D</text>
<text class="f1" transform="matrix(0.735 0 0 1 853.14 733.90)">R</text>
<text class="f1" transform="matrix(0.977 0 0 1 868.38 733.90)">i</text>
<text class="f1" transform="matrix(0.745 0 0 1 875.05 733.90)">s</text>
<text class="f1" transform="matrix(0.856 0 0 1 886.19 733.90)">k</text>
<text class="f1" transform="matrix(0.907 0 0 1 904.92 733.90)">o</text>
<text class="f1" transform="matrix(1.007 0 0 1 919.80 733.90)">f</text>
<text class="f1" transform="matrix(0.705 0 0 1 934.69 733.90)">a</text>
<text class="f1" transform="matrix(0.886 0 0 1 946.47 733.90)">n</text>
<text class="f1" transform="matrix(1.007 0 0 1 960.86 733.90)">t</text>
<text class="f1" transform="matrix(0.977 0 0 1 969.30 733.90)">i</text>
<text class="f1" transform="matrix(0.907 0 0 1 975.52 733.90)">b</text>
<text class="f1" transform="matrix(0.977 0 0 1 989.85 733.90)">i</text>
<text class="f1" transform="matrix(0.907 0 0 1 996.27 733.90)">o</text>
<text class="f1" transform="matrix(1.007 0 0 1 1011.13 733.90)">t</text>
<text class="f1" transform="matrix(0.977 0 0 1 1019.57 733.90)">i</text>
<text class="f1" transform="matrix(0.826 0 0 1 1026.08 733.90)">c</text>
<text class="f1" transform="matrix(0.876 0 0 1 1043.96 733.90)">p</text>
<text class="f1" transform="matrix(1.007 0 0 1 1057.81 733.90)">r</text>
<text class="f1" transform="matrix(0.826 0 0 1 1068.10 733.90)">e</text>
<text class="f1" transform="matrix(0.745 0 0 1 1081.87 733.90)">s</text>
<text class="f1" transform="matrix(0.826 0 0 1 1093.23 733.90)">c</text>
<text class="f1" transform="matrix(1.007 0 0 1 1105.19 733.90)">r</text>
<text class="f1" transform="matrix(0.977 0 0 1 1115.05 733.90)">i</text>
<text class="f1" transform="matrix(0.876 0 0 1 1121.32 733.90)">p</text>
<text class="f1" transform="matrix(1.007 0 0 1 1135.76 733.90)">t</text>
<text class="f1" transform="matrix(0.977 0 0 1 1144.20 733.90)">i</text>
<text class="f1" transform="matrix(0.907 0 0 1 1150.62 733.90)">o</text>
<text class="f1" transform="matrix(0.886 0 0 1 1165.12 733.90)">n</text>
<text class="f1" transform="matrix(0.907 0 0 1 1184.70 733.90)">b</text>
<text class="f1" transform="matrix(0.876 0 0 1 1199.72 733.90)">y</text>
<text class="f1" transform="matrix(0.826 0 0 1 1218.78 733.90)">c</text>
<text class="f1" transform="matrix(0.977 0 0 1 1230.78 733.90)">l</text>
<text class="f1" transform="matrix(0.977 0 0 1 1236.86 733.90)">i</text>
<text class="f1" transform="matrix(0.886 0 0 1 1243.11 733.90)">n</text>
<text class="f1" transform="matrix(0.977 0 0 1 1256.96 733.90)">i</text>
<text class="f1" transform="matrix(0.826 0 0 1 1263.47 733.90)">c</text>
<text class="f1" transform="matrix(0.705 0 0 1 1276.06 733.90)">a</text>
<text class="f1" transform="matrix(0.977 0 0 1 1287.67 733.90)">l</text>
<text class="f1" transform="matrix(0.786 0 0 1 1300.14 733.90)">V</text>
<text class="f1" transform="matrix(0.786 0 0 1 1315.63 733.90)">L</text>
<text class="f1" transform="matrix(0.735 0 0 1 1328.67 733.90)">R</text>
<text class="f1" transform="matrix(0.856 0 0 1 1344.46 733.90)">T</text>
<text class="f1" transform="matrix(0.977 0 0 1 1359.23 733.90)">I</text>
<text class="f1" transform="matrix(0.917 0 0 1 1372.44 733.90)">d</text>
<text class="f1" transform="matrix(0.977 0 0 1 1386.70 733.90)">i</text>
<text class="f1" transform="matrix(0.705 0 0 1 1393.35 733.90)">a</text>
<text class="f1" transform="matrix(0.897 0 0 1 1405.32 733.90)">g</text>
<text class="f1" transform="matrix(0.886 0 0 1 1419.48 733.90)">n</text>
<text class="f1" transform="matrix(0.907 0 0 1 1433.68 733.90)">o</text>
<text class="f1" transform="matrix(0.745 0 0 1 1448.60 733.90)">s</text>
<text class="f1" transform="matrix(0.977 0 0 1 1459.52 733.90)">i</text>
<text class="f1" transform="matrix(0.745 0 0 1 1466.19 733.90)">s</text>
<text class="f5 semi" transform="matrix(0.695 0 0 1 802.74 822.70)">C</text>
<text class="f5 semi" transform="matrix(0.846 0 0 1 817.88 822.70)">o</text>
<text class="f5 semi" transform="matrix(0.874 0 0 1 831.83 822.70)">h</text>
<text class="f5 semi" transform="matrix(0.846 0 0 1 846.21 822.70)">o</text>
<text class="f5 semi" transform="matrix(0.941 0 0 1 860.06 822.70)">r</text>
<text class="f5 semi" transform="matrix(0.941 0 0 1 870.36 822.70)">t</text>
<text class="f5 semi" transform="matrix(0.704 0 0 1 1105.25 822.70)">R</text>
<text class="f5 semi" transform="matrix(0.704 0 0 1 1120.74 822.70)">R</text>
<text class="f5 semi" transform="matrix(0.948 0 0 1 1141.70 822.70)">(</text>
<text class="f5 semi" transform="matrix(0.869 0 0 1 1152.06 822.70)">9</text>
<text class="f5 semi" transform="matrix(0.811 0 0 1 1166.63 822.70)">5</text>
<text class="f5 semi" transform="matrix(0.771 0 0 1 1180.52 822.70)">%</text>
<text class="f5 semi" transform="matrix(0.714 0 0 1 1206.46 822.70)">C</text>
<text class="f5 semi" transform="matrix(0.949 0 0 1 1221.53 822.70)">I</text>
<text class="f5 semi" transform="matrix(0.862 0 0 1 1230.10 822.70)">)</text>
<line x1="802.00" y1="833.80" x2="1301.20" y2="833.80" stroke="#000" stroke-width="2.1"/>
<text class="f5 semi" transform="matrix(0.749 0 0 1 1627.76 787.90)">F</text>
<text class="f5 semi" transform="matrix(0.655 0 0 1 1641.81 787.90)">a</text>
<text class="f5 semi" transform="matrix(0.786 0 0 1 1653.64 787.90)">v</text>
<text class="f5 semi" transform="matrix(0.842 0 0 1 1665.95 787.90)">o</text>
<text class="f5 semi" transform="matrix(0.936 0 0 1 1679.67 787.90)">r</text>
<text class="f5 semi" transform="matrix(0.693 0 0 1 1689.95 787.90)">s</text>
<text class="f5 semi" transform="matrix(0.823 0 0 1 1706.38 787.90)">n</text>
<text class="f5 semi" transform="matrix(0.842 0 0 1 1720.04 787.90)">o</text>
<text class="f5 semi" transform="matrix(0.823 0 0 1 1599.78 820.40)">p</text>
<text class="f5 semi" transform="matrix(0.947 0 0 1 1613.30 820.40)">r</text>
<text class="f5 semi" transform="matrix(0.775 0 0 1 1623.60 820.40)">e</text>
<text class="f5 semi" transform="matrix(0.700 0 0 1 1636.99 820.40)">s</text>
<text class="f5 semi" transform="matrix(0.776 0 0 1 1648.26 820.40)">c</text>
<text class="f5 semi" transform="matrix(0.947 0 0 1 1660.09 820.40)">r</text>
<text class="f5 semi" transform="matrix(0.925 0 0 1 1670.04 820.40)">i</text>
<text class="f5 semi" transform="matrix(0.823 0 0 1 1676.95 820.40)">p</text>
<text class="f5 semi" transform="matrix(0.947 0 0 1 1690.90 820.40)">t</text>
<text class="f5 semi" transform="matrix(0.925 0 0 1 1699.57 820.40)">i</text>
<text class="f5 semi" transform="matrix(0.851 0 0 1 1706.57 820.40)">o</text>
<text class="f5 semi" transform="matrix(0.832 0 0 1 1720.66 820.40)">n</text>
<text class="f5 semi" transform="matrix(0.744 0 0 1 1768.27 787.90)">F</text>
<text class="f5 semi" transform="matrix(0.651 0 0 1 1782.24 787.90)">a</text>
<text class="f5 semi" transform="matrix(0.781 0 0 1 1793.99 787.90)">v</text>
<text class="f5 semi" transform="matrix(0.836 0 0 1 1806.23 787.90)">o</text>
<text class="f5 semi" transform="matrix(0.930 0 0 1 1819.87 787.90)">r</text>
<text class="f5 semi" transform="matrix(0.688 0 0 1 1830.08 787.90)">s</text>
<text class="f5 semi" transform="matrix(0.821 0 0 1 1768.48 820.40)">p</text>
<text class="f5 semi" transform="matrix(0.945 0 0 1 1781.96 820.40)">r</text>
<text class="f5 semi" transform="matrix(0.774 0 0 1 1792.23 820.40)">e</text>
<text class="f5 semi" transform="matrix(0.698 0 0 1 1805.58 820.40)">s</text>
<text class="f5 semi" transform="matrix(0.774 0 0 1 1816.82 820.40)">c</text>
<text class="f5 semi" transform="matrix(0.945 0 0 1 1828.61 820.40)">r</text>
<text class="f5 semi" transform="matrix(0.922 0 0 1 1838.53 820.40)">i</text>
<text class="f5 semi" transform="matrix(0.821 0 0 1 1845.41 820.40)">p</text>
<text class="f5 semi" transform="matrix(0.945 0 0 1 1859.32 820.40)">t</text>
<text class="f5 semi" transform="matrix(0.922 0 0 1 1867.97 820.40)">i</text>
<text class="f5 semi" transform="matrix(0.849 0 0 1 1874.93 820.40)">o</text>
<text class="f5 semi" transform="matrix(0.830 0 0 1 1888.99 820.40)">n</text>
<text class="f6" transform="matrix(0.922 0 0 1 803.75 877.30)">2</text>
<text class="f6" transform="matrix(0.984 0 0 1 818.49 877.30)">0</text>
<text class="f6" transform="matrix(0.922 0 0 1 834.15 877.30)">2</text>
<text class="f6" transform="matrix(0.922 0 0 1 848.87 877.30)">2</text>
<text class="f6" transform="matrix(1.158 0 0 1 863.35 877.30)">-</text>
<text class="f6" transform="matrix(0.922 0 0 1 874.39 877.30)">2</text>
<text class="f6" transform="matrix(0.984 0 0 1 889.13 877.30)">0</text>
<text class="f6" transform="matrix(0.922 0 0 1 904.80 877.30)">2</text>
<text class="f6" transform="matrix(0.902 0 0 1 919.63 877.30)">3</text>
<line x1="827.30" y1="893.20" x2="1301.60" y2="893.20" stroke="#c3c6ca" stroke-width="1.2"/>
<text class="f6" transform="matrix(0.761 0 0 1 828.76 936.30)">C</text>
<text class="f6" transform="matrix(0.998 0 0 1 844.35 936.30)">l</text>
<text class="f6" transform="matrix(0.998 0 0 1 850.55 936.30)">i</text>
<text class="f6" transform="matrix(0.905 0 0 1 856.92 936.30)">n</text>
<text class="f6" transform="matrix(0.998 0 0 1 870.91 936.30)">i</text>
<text class="f6" transform="matrix(0.843 0 0 1 877.54 936.30)">c</text>
<text class="f6" transform="matrix(0.720 0 0 1 890.24 936.30)">a</text>
<text class="f6" transform="matrix(0.998 0 0 1 901.95 936.30)">l</text>
<text class="f6" transform="matrix(0.802 0 0 1 914.70 936.30)">V</text>
<text class="f6" transform="matrix(0.802 0 0 1 930.31 936.30)">L</text>
<text class="f6" transform="matrix(0.751 0 0 1 943.49 936.30)">R</text>
<text class="f6" transform="matrix(0.874 0 0 1 959.40 936.30)">T</text>
<text class="f6" transform="matrix(0.998 0 0 1 974.30 936.30)">I</text>
<text class="f6" transform="matrix(0.855 0 0 1 1105.64 936.10)">1</text>
<text class="f6" transform="matrix(1.177 0 0 1 1124.03 936.10)">[</text>
<text class="f6" transform="matrix(0.735 0 0 1 1133.93 936.10)">R</text>
<text class="f6" transform="matrix(0.825 0 0 1 1149.32 936.10)">e</text>
<text class="f6" transform="matrix(1.006 0 0 1 1162.79 936.10)">f</text>
<text class="f6" transform="matrix(0.825 0 0 1 1171.60 936.10)">e</text>
<text class="f6" transform="matrix(1.006 0 0 1 1184.47 936.10)">r</text>
<text class="f6" transform="matrix(0.825 0 0 1 1194.58 936.10)">e</text>
<text class="f6" transform="matrix(0.885 0 0 1 1207.68 936.10)">n</text>
<text class="f6" transform="matrix(0.825 0 0 1 1221.70 936.10)">c</text>
<text class="f6" transform="matrix(0.825 0 0 1 1233.92 936.10)">e</text>
<text class="f6" transform="matrix(1.218 0 0 1 1247.41 936.10)">]</text>
<line x1="827.30" y1="952.30" x2="1301.60" y2="952.30" stroke="#c3c6ca" stroke-width="1.2"/>
<text class="f6" transform="matrix(0.840 0 0 1 829.89 995.50)">T</text>
<text class="f6" transform="matrix(0.810 0 0 1 844.70 995.50)">e</text>
<text class="f6" transform="matrix(0.731 0 0 1 857.85 995.50)">s</text>
<text class="f6" transform="matrix(0.988 0 0 1 868.79 995.50)">t</text>
<text class="f6" transform="matrix(0.810 0 0 1 877.25 995.50)">e</text>
<text class="f6" transform="matrix(0.899 0 0 1 890.15 995.50)">d</text>
<text class="f6" transform="matrix(0.770 0 0 1 909.74 995.50)">V</text>
<text class="f6" transform="matrix(0.770 0 0 1 924.54 995.50)">L</text>
<text class="f6" transform="matrix(0.721 0 0 1 936.97 995.50)">R</text>
<text class="f6" transform="matrix(0.840 0 0 1 952.08 995.50)">T</text>
<text class="f6" transform="matrix(0.958 0 0 1 966.17 995.50)">I</text>
<text class="f6" transform="matrix(0.731 0 0 1 973.65 995.50)">s</text>
<text class="f6" transform="matrix(0.973 0 0 1 1105.07 995.30)">0</text>
<text class="f6" transform="matrix(1.267 0 0 1 1119.20 995.30)">.</text>
<text class="f6" transform="matrix(0.851 0 0 1 1128.35 995.30)">5</text>
<text class="f6" transform="matrix(0.912 0 0 1 1142.20 995.30)">4</text>
<text class="f6" transform="matrix(0.993 0 0 1 1162.24 995.30)">(</text>
<text class="f6" transform="matrix(0.973 0 0 1 1172.27 995.30)">0</text>
<text class="f6" transform="matrix(1.267 0 0 1 1186.40 995.30)">.</text>
<text class="f6" transform="matrix(0.912 0 0 1 1195.62 995.30)">4</text>
<text class="f6" transform="matrix(0.912 0 0 1 1210.43 995.30)">4</text>
<text class="f6" transform="matrix(1.145 0 0 1 1224.78 995.30)">-</text>
<text class="f6" transform="matrix(0.973 0 0 1 1235.58 995.30)">0</text>
<text class="f6" transform="matrix(1.267 0 0 1 1249.71 995.30)">.</text>
<text class="f6" transform="matrix(0.973 0 0 1 1258.61 995.30)">6</text>
<text class="f6" transform="matrix(0.973 0 0 1 1273.83 995.30)">6</text>
<text class="f6" transform="matrix(0.902 0 0 1 1289.50 995.30)">)</text>
<line x1="802.60" y1="1012.00" x2="1301.60" y2="1012.00" stroke="#d5d7da" stroke-width="1.5"/>
<text class="f6" transform="matrix(0.919 0 0 1 803.75 1055.00)">2</text>
<text class="f6" transform="matrix(0.980 0 0 1 818.42 1055.00)">0</text>
<text class="f6" transform="matrix(0.919 0 0 1 834.00 1055.00)">2</text>
<text class="f6" transform="matrix(0.898 0 0 1 848.76 1055.00)">3</text>
<text class="f6" transform="matrix(1.154 0 0 1 862.94 1055.00)">-</text>
<text class="f6" transform="matrix(0.919 0 0 1 873.92 1055.00)">2</text>
<text class="f6" transform="matrix(0.980 0 0 1 888.59 1055.00)">0</text>
<text class="f6" transform="matrix(0.919 0 0 1 904.17 1055.00)">2</text>
<text class="f6" transform="matrix(0.919 0 0 1 919.03 1055.00)">4</text>
<line x1="827.30" y1="1071.30" x2="1301.60" y2="1071.30" stroke="#c3c6ca" stroke-width="1.2"/>
<text class="f6" transform="matrix(0.761 0 0 1 828.76 1114.30)">C</text>
<text class="f6" transform="matrix(0.998 0 0 1 844.35 1114.30)">l</text>
<text class="f6" transform="matrix(0.998 0 0 1 850.55 1114.30)">i</text>
<text class="f6" transform="matrix(0.905 0 0 1 856.92 1114.30)">n</text>
<text class="f6" transform="matrix(0.998 0 0 1 870.91 1114.30)">i</text>
<text class="f6" transform="matrix(0.843 0 0 1 877.54 1114.30)">c</text>
<text class="f6" transform="matrix(0.720 0 0 1 890.24 1114.30)">a</text>
<text class="f6" transform="matrix(0.998 0 0 1 901.95 1114.30)">l</text>
<text class="f6" transform="matrix(0.802 0 0 1 914.70 1114.30)">V</text>
<text class="f6" transform="matrix(0.802 0 0 1 930.31 1114.30)">L</text>
<text class="f6" transform="matrix(0.751 0 0 1 943.49 1114.30)">R</text>
<text class="f6" transform="matrix(0.874 0 0 1 959.40 1114.30)">T</text>
<text class="f6" transform="matrix(0.998 0 0 1 974.30 1114.30)">I</text>
<text class="f6" transform="matrix(0.855 0 0 1 1105.64 1114.10)">1</text>
<text class="f6" transform="matrix(1.177 0 0 1 1124.03 1114.10)">[</text>
<text class="f6" transform="matrix(0.735 0 0 1 1133.93 1114.10)">R</text>
<text class="f6" transform="matrix(0.825 0 0 1 1149.32 1114.10)">e</text>
<text class="f6" transform="matrix(1.006 0 0 1 1162.79 1114.10)">f</text>
<text class="f6" transform="matrix(0.825 0 0 1 1171.60 1114.10)">e</text>
<text class="f6" transform="matrix(1.006 0 0 1 1184.47 1114.10)">r</text>
<text class="f6" transform="matrix(0.825 0 0 1 1194.58 1114.10)">e</text>
<text class="f6" transform="matrix(0.885 0 0 1 1207.68 1114.10)">n</text>
<text class="f6" transform="matrix(0.825 0 0 1 1221.70 1114.10)">c</text>
<text class="f6" transform="matrix(0.825 0 0 1 1233.92 1114.10)">e</text>
<text class="f6" transform="matrix(1.218 0 0 1 1247.41 1114.10)">]</text>
<line x1="827.30" y1="1130.50" x2="1301.60" y2="1130.50" stroke="#c3c6ca" stroke-width="1.2"/>
<text class="f6" transform="matrix(0.840 0 0 1 829.89 1173.50)">T</text>
<text class="f6" transform="matrix(0.810 0 0 1 844.70 1173.50)">e</text>
<text class="f6" transform="matrix(0.731 0 0 1 857.85 1173.50)">s</text>
<text class="f6" transform="matrix(0.988 0 0 1 868.79 1173.50)">t</text>
<text class="f6" transform="matrix(0.810 0 0 1 877.25 1173.50)">e</text>
<text class="f6" transform="matrix(0.899 0 0 1 890.15 1173.50)">d</text>
<text class="f6" transform="matrix(0.770 0 0 1 909.74 1173.50)">V</text>
<text class="f6" transform="matrix(0.770 0 0 1 924.54 1173.50)">L</text>
<text class="f6" transform="matrix(0.721 0 0 1 936.97 1173.50)">R</text>
<text class="f6" transform="matrix(0.840 0 0 1 952.08 1173.50)">T</text>
<text class="f6" transform="matrix(0.958 0 0 1 966.17 1173.50)">I</text>
<text class="f6" transform="matrix(0.731 0 0 1 973.65 1173.50)">s</text>
<text class="f6" transform="matrix(0.983 0 0 1 1105.06 1173.30)">0</text>
<text class="f6" transform="matrix(1.279 0 0 1 1119.38 1173.30)">.</text>
<text class="f6" transform="matrix(0.983 0 0 1 1128.42 1173.30)">6</text>
<text class="f6" transform="matrix(0.870 0 0 1 1143.80 1173.30)">1</text>
<text class="f6" transform="matrix(1.003 0 0 1 1163.25 1173.30)">(</text>
<text class="f6" transform="matrix(0.983 0 0 1 1173.40 1173.30)">0</text>
<text class="f6" transform="matrix(1.279 0 0 1 1187.72 1173.30)">.</text>
<text class="f6" transform="matrix(0.860 0 0 1 1197.00 1173.30)">5</text>
<text class="f6" transform="matrix(0.983 0 0 1 1210.83 1173.30)">0</text>
<text class="f6" transform="matrix(1.157 0 0 1 1226.14 1173.30)">-</text>
<text class="f6" transform="matrix(0.983 0 0 1 1237.08 1173.30)">0</text>
<text class="f6" transform="matrix(1.279 0 0 1 1251.40 1173.30)">.</text>
<text class="f6" transform="matrix(0.921 0 0 1 1260.52 1173.30)">7</text>
<text class="f6" transform="matrix(0.860 0 0 1 1275.26 1173.30)">5</text>
<text class="f6" transform="matrix(0.911 0 0 1 1289.43 1173.30)">)</text>
<line x1="1750.10" y1="769.35" x2="1750.10" y2="1257.10" stroke="#111" stroke-width="1.8" stroke-dasharray="1.7 3.3"/>
<line x1="1307.70" y1="1257.10" x2="1926.92" y2="1257.10" stroke="#6a6a6a" stroke-width="1.6"/>
<line x1="1308.40" y1="1257.10" x2="1308.40" y2="1265.30" stroke="#6a6a6a" stroke-width="1.4"/>
<line x1="1396.66" y1="1257.10" x2="1396.66" y2="1265.30" stroke="#6a6a6a" stroke-width="1.4"/>
<line x1="1484.92" y1="1257.10" x2="1484.92" y2="1265.30" stroke="#6a6a6a" stroke-width="1.4"/>
<line x1="1573.18" y1="1257.10" x2="1573.18" y2="1265.30" stroke="#6a6a6a" stroke-width="1.4"/>
<line x1="1661.44" y1="1257.10" x2="1661.44" y2="1265.30" stroke="#6a6a6a" stroke-width="1.4"/>
<line x1="1749.70" y1="1257.10" x2="1749.70" y2="1265.30" stroke="#6a6a6a" stroke-width="1.4"/>
<line x1="1837.96" y1="1257.10" x2="1837.96" y2="1265.30" stroke="#6a6a6a" stroke-width="1.4"/>
<line x1="1926.22" y1="1257.10" x2="1926.22" y2="1265.30" stroke="#6a6a6a" stroke-width="1.4"/>
<text class="f7" transform="matrix(0.965 0 0 1 1301.69 1291.50)">0</text>
<text class="f7" transform="matrix(0.960 0 0 1 1380.03 1291.50)">0</text>
<text class="f7" transform="matrix(1.250 0 0 1 1392.85 1291.50)">.</text>
<text class="f7" transform="matrix(0.900 0 0 1 1400.97 1291.50)">2</text>
<text class="f7" transform="matrix(0.956 0 0 1 1468.04 1291.50)">0</text>
<text class="f7" transform="matrix(1.245 0 0 1 1480.78 1291.50)">.</text>
<text class="f7" transform="matrix(0.897 0 0 1 1489.05 1291.50)">4</text>
<text class="f7" transform="matrix(0.947 0 0 1 1556.49 1291.50)">0</text>
<text class="f7" transform="matrix(1.233 0 0 1 1569.01 1291.50)">.</text>
<text class="f7" transform="matrix(0.947 0 0 1 1576.82 1291.50)">6</text>
<text class="f7" transform="matrix(0.955 0 0 1 1644.73 1291.50)">0</text>
<text class="f7" transform="matrix(1.243 0 0 1 1657.43 1291.50)">.</text>
<text class="f7" transform="matrix(0.915 0 0 1 1665.49 1291.50)">8</text>
<text class="f7" transform="matrix(0.859 0 0 1 1732.69 1291.50)">1</text>
<text class="f7" transform="matrix(1.263 0 0 1 1744.22 1291.50)">.</text>
<text class="f7" transform="matrix(0.970 0 0 1 1752.54 1291.50)">0</text>
<text class="f7" transform="matrix(0.874 0 0 1 1821.05 1291.50)">1</text>
<text class="f7" transform="matrix(1.285 0 0 1 1832.92 1291.50)">.</text>
<text class="f7" transform="matrix(0.925 0 0 1 1841.50 1291.50)">2</text>
<text class="f7" transform="matrix(0.870 0 0 1 1909.07 1291.50)">1</text>
<text class="f7" transform="matrix(1.279 0 0 1 1920.87 1291.50)">.</text>
<text class="f7" transform="matrix(0.921 0 0 1 1929.59 1291.50)">4</text>
<text class="f6" transform="matrix(0.744 0 0 1 1551.25 1328.80)">R</text>
<text class="f6" transform="matrix(0.744 0 0 1 1566.84 1328.80)">R</text>
<text class="f6" transform="matrix(0.998 0 0 1 1587.78 1328.80)">(</text>
<text class="f6" transform="matrix(0.917 0 0 1 1597.86 1328.80)">9</text>
<text class="f6" transform="matrix(0.856 0 0 1 1612.53 1328.80)">5</text>
<text class="f6" transform="matrix(0.815 0 0 1 1626.45 1328.80)">%</text>
<text class="f6" transform="matrix(0.754 0 0 1 1652.93 1328.80)">C</text>
<text class="f6" transform="matrix(0.988 0 0 1 1668.09 1328.80)">I</text>
<text class="f6" transform="matrix(0.907 0 0 1 1676.07 1328.80)">)</text>
<rect x="1741.80" y="914.70" width="16.80" height="16.60" fill="#2e5563"/>
<line x1="1502.90" y1="982.10" x2="1599.90" y2="982.10" stroke="#2a2a2a" stroke-width="1.15"/>
<rect x="1539.00" y="973.80" width="16.80" height="16.60" fill="#2e5563"/>
<rect x="1741.80" y="1092.50" width="16.80" height="16.60" fill="#2e5563"/>
<line x1="1529.30" y1="1160.55" x2="1639.90" y2="1160.55" stroke="#2a2a2a" stroke-width="1.15"/>
<rect x="1569.50" y="1152.25" width="16.80" height="16.60" fill="#2e5563"/>
<rect x="802.00" y="1408.00" width="36.40" height="36.20" fill="none" stroke="#1e1e1e" stroke-width="1.05"/>
<text class="f0 boxl" transform="matrix(0.764 0 0 1 814.75 1434.50)">F</text>
<text class="f1" transform="matrix(0.732 0 0 1 853.15 1435.00)">R</text>
<text class="f1" transform="matrix(0.973 0 0 1 868.30 1435.00)">i</text>
<text class="f1" transform="matrix(0.742 0 0 1 874.92 1435.00)">s</text>
<text class="f1" transform="matrix(0.852 0 0 1 885.99 1435.00)">k</text>
<text class="f1" transform="matrix(0.902 0 0 1 904.59 1435.00)">o</text>
<text class="f1" transform="matrix(1.003 0 0 1 919.39 1435.00)">f</text>
<text class="f1" transform="matrix(0.702 0 0 1 934.16 1435.00)">a</text>
<text class="f1" transform="matrix(0.882 0 0 1 945.88 1435.00)">n</text>
<text class="f1" transform="matrix(1.003 0 0 1 960.19 1435.00)">t</text>
<text class="f1" transform="matrix(0.973 0 0 1 968.57 1435.00)">i</text>
<text class="f1" transform="matrix(0.902 0 0 1 974.75 1435.00)">b</text>
<text class="f1" transform="matrix(0.973 0 0 1 988.99 1435.00)">i</text>
<text class="f1" transform="matrix(0.902 0 0 1 995.36 1435.00)">o</text>
<text class="f1" transform="matrix(1.003 0 0 1 1010.14 1435.00)">t</text>
<text class="f1" transform="matrix(0.973 0 0 1 1018.53 1435.00)">i</text>
<text class="f1" transform="matrix(0.822 0 0 1 1024.99 1435.00)">c</text>
<text class="f1" transform="matrix(0.872 0 0 1 1042.74 1435.00)">p</text>
<text class="f1" transform="matrix(1.003 0 0 1 1056.50 1435.00)">r</text>
<text class="f1" transform="matrix(0.822 0 0 1 1066.74 1435.00)">e</text>
<text class="f1" transform="matrix(0.742 0 0 1 1080.42 1435.00)">s</text>
<text class="f1" transform="matrix(0.822 0 0 1 1091.71 1435.00)">c</text>
<text class="f1" transform="matrix(1.003 0 0 1 1103.60 1435.00)">r</text>
<text class="f1" transform="matrix(0.973 0 0 1 1113.40 1435.00)">i</text>
<text class="f1" transform="matrix(0.872 0 0 1 1119.63 1435.00)">p</text>
<text class="f1" transform="matrix(1.003 0 0 1 1133.99 1435.00)">t</text>
<text class="f1" transform="matrix(0.973 0 0 1 1142.37 1435.00)">i</text>
<text class="f1" transform="matrix(0.902 0 0 1 1148.74 1435.00)">o</text>
<text class="f1" transform="matrix(0.882 0 0 1 1163.15 1435.00)">n</text>
<text class="f1" transform="matrix(0.973 0 0 1 1182.44 1435.00)">i</text>
<text class="f1" transform="matrix(0.882 0 0 1 1188.63 1435.00)">n</text>
<text class="f1" transform="matrix(0.732 0 0 1 1208.26 1435.00)">R</text>
<text class="f1" transform="matrix(0.722 0 0 1 1223.96 1435.00)">S</text>
<text class="f1" transform="matrix(0.782 0 0 1 1238.53 1435.00)">V</text>
<text class="f1" transform="matrix(1.133 0 0 1 1253.70 1435.00)">-</text>
<text class="f1" transform="matrix(0.822 0 0 1 1264.65 1435.00)">c</text>
<text class="f1" transform="matrix(0.902 0 0 1 1276.94 1435.00)">o</text>
<text class="f1" transform="matrix(0.882 0 0 1 1291.35 1435.00)">n</text>
<text class="f1" transform="matrix(1.003 0 0 1 1305.67 1435.00)">f</text>
<text class="f1" transform="matrix(0.973 0 0 1 1314.15 1435.00)">i</text>
<text class="f1" transform="matrix(1.003 0 0 1 1320.13 1435.00)">r</text>
<text class="f1" transform="matrix(0.922 0 0 1 1330.02 1435.00)">m</text>
<text class="f1" transform="matrix(0.822 0 0 1 1351.78 1435.00)">e</text>
<text class="f1" transform="matrix(0.912 0 0 1 1365.21 1435.00)">d</text>
<text class="f1" transform="matrix(0.842 0 0 1 1385.73 1435.00)">v</text>
<text class="f1" transform="matrix(0.742 0 0 1 1398.69 1435.00)">s</text>
<text class="f1" transform="matrix(0.822 0 0 1 1415.62 1435.00)">c</text>
<text class="f1" transform="matrix(0.973 0 0 1 1427.55 1435.00)">l</text>
<text class="f1" transform="matrix(0.973 0 0 1 1433.58 1435.00)">i</text>
<text class="f1" transform="matrix(0.882 0 0 1 1439.78 1435.00)">n</text>
<text class="f1" transform="matrix(0.973 0 0 1 1453.54 1435.00)">i</text>
<text class="f1" transform="matrix(0.822 0 0 1 1460.01 1435.00)">c</text>
<text class="f1" transform="matrix(0.702 0 0 1 1472.52 1435.00)">a</text>
<text class="f1" transform="matrix(0.973 0 0 1 1484.06 1435.00)">l</text>
<text class="f1" transform="matrix(0.973 0 0 1 1490.09 1435.00)">l</text>
<text class="f1" transform="matrix(0.872 0 0 1 1496.82 1435.00)">y</text>
<text class="f1" transform="matrix(0.912 0 0 1 1515.65 1435.00)">d</text>
<text class="f1" transform="matrix(0.973 0 0 1 1529.82 1435.00)">i</text>
<text class="f1" transform="matrix(0.702 0 0 1 1536.43 1435.00)">a</text>
<text class="f1" transform="matrix(0.892 0 0 1 1548.33 1435.00)">g</text>
<text class="f1" transform="matrix(0.882 0 0 1 1562.41 1435.00)">n</text>
<text class="f1" transform="matrix(0.902 0 0 1 1576.52 1435.00)">o</text>
<text class="f1" transform="matrix(0.742 0 0 1 1591.36 1435.00)">s</text>
<text class="f1" transform="matrix(0.822 0 0 1 1602.64 1435.00)">e</text>
<text class="f1" transform="matrix(0.912 0 0 1 1616.07 1435.00)">d</text>
<text class="f1" transform="matrix(0.822 0 0 1 1636.26 1435.00)">c</text>
<text class="f1" transform="matrix(0.902 0 0 1 1648.54 1435.00)">o</text>
<text class="f1" transform="matrix(0.932 0 0 1 1662.83 1435.00)">h</text>
<text class="f1" transform="matrix(0.902 0 0 1 1677.62 1435.00)">o</text>
<text class="f1" transform="matrix(1.003 0 0 1 1691.81 1435.00)">r</text>
<text class="f1" transform="matrix(1.003 0 0 1 1702.15 1435.00)">t</text>
<text class="f1" transform="matrix(0.742 0 0 1 1711.14 1435.00)">s</text>
<text class="f5 semi" transform="matrix(0.695 0 0 1 802.74 1538.90)">C</text>
<text class="f5 semi" transform="matrix(0.846 0 0 1 817.88 1538.90)">o</text>
<text class="f5 semi" transform="matrix(0.874 0 0 1 831.83 1538.90)">h</text>
<text class="f5 semi" transform="matrix(0.846 0 0 1 846.21 1538.90)">o</text>
<text class="f5 semi" transform="matrix(0.941 0 0 1 860.06 1538.90)">r</text>
<text class="f5 semi" transform="matrix(0.941 0 0 1 870.36 1538.90)">t</text>
<text class="f5 semi" transform="matrix(0.704 0 0 1 1105.25 1538.90)">R</text>
<text class="f5 semi" transform="matrix(0.704 0 0 1 1120.74 1538.90)">R</text>
<text class="f5 semi" transform="matrix(0.948 0 0 1 1141.70 1538.90)">(</text>
<text class="f5 semi" transform="matrix(0.869 0 0 1 1152.06 1538.90)">9</text>
<text class="f5 semi" transform="matrix(0.811 0 0 1 1166.63 1538.90)">5</text>
<text class="f5 semi" transform="matrix(0.771 0 0 1 1180.52 1538.90)">%</text>
<text class="f5 semi" transform="matrix(0.714 0 0 1 1206.46 1538.90)">C</text>
<text class="f5 semi" transform="matrix(0.949 0 0 1 1221.53 1538.90)">I</text>
<text class="f5 semi" transform="matrix(0.862 0 0 1 1230.10 1538.90)">)</text>
<line x1="802.00" y1="1550.00" x2="1301.20" y2="1550.00" stroke="#000" stroke-width="2.1"/>
<text class="f5 semi" transform="matrix(0.749 0 0 1 1627.76 1505.60)">F</text>
<text class="f5 semi" transform="matrix(0.655 0 0 1 1641.81 1505.60)">a</text>
<text class="f5 semi" transform="matrix(0.786 0 0 1 1653.64 1505.60)">v</text>
<text class="f5 semi" transform="matrix(0.842 0 0 1 1665.95 1505.60)">o</text>
<text class="f5 semi" transform="matrix(0.936 0 0 1 1679.67 1505.60)">r</text>
<text class="f5 semi" transform="matrix(0.693 0 0 1 1689.95 1505.60)">s</text>
<text class="f5 semi" transform="matrix(0.823 0 0 1 1706.38 1505.60)">n</text>
<text class="f5 semi" transform="matrix(0.842 0 0 1 1720.04 1505.60)">o</text>
<text class="f5 semi" transform="matrix(0.823 0 0 1 1599.78 1538.10)">p</text>
<text class="f5 semi" transform="matrix(0.947 0 0 1 1613.30 1538.10)">r</text>
<text class="f5 semi" transform="matrix(0.775 0 0 1 1623.60 1538.10)">e</text>
<text class="f5 semi" transform="matrix(0.700 0 0 1 1636.99 1538.10)">s</text>
<text class="f5 semi" transform="matrix(0.776 0 0 1 1648.26 1538.10)">c</text>
<text class="f5 semi" transform="matrix(0.947 0 0 1 1660.09 1538.10)">r</text>
<text class="f5 semi" transform="matrix(0.925 0 0 1 1670.04 1538.10)">i</text>
<text class="f5 semi" transform="matrix(0.823 0 0 1 1676.95 1538.10)">p</text>
<text class="f5 semi" transform="matrix(0.947 0 0 1 1690.90 1538.10)">t</text>
<text class="f5 semi" transform="matrix(0.925 0 0 1 1699.57 1538.10)">i</text>
<text class="f5 semi" transform="matrix(0.851 0 0 1 1706.57 1538.10)">o</text>
<text class="f5 semi" transform="matrix(0.832 0 0 1 1720.66 1538.10)">n</text>
<text class="f5 semi" transform="matrix(0.744 0 0 1 1768.27 1505.60)">F</text>
<text class="f5 semi" transform="matrix(0.651 0 0 1 1782.24 1505.60)">a</text>
<text class="f5 semi" transform="matrix(0.781 0 0 1 1793.99 1505.60)">v</text>
<text class="f5 semi" transform="matrix(0.836 0 0 1 1806.23 1505.60)">o</text>
<text class="f5 semi" transform="matrix(0.930 0 0 1 1819.87 1505.60)">r</text>
<text class="f5 semi" transform="matrix(0.688 0 0 1 1830.08 1505.60)">s</text>
<text class="f5 semi" transform="matrix(0.821 0 0 1 1768.48 1538.10)">p</text>
<text class="f5 semi" transform="matrix(0.945 0 0 1 1781.96 1538.10)">r</text>
<text class="f5 semi" transform="matrix(0.774 0 0 1 1792.23 1538.10)">e</text>
<text class="f5 semi" transform="matrix(0.698 0 0 1 1805.58 1538.10)">s</text>
<text class="f5 semi" transform="matrix(0.774 0 0 1 1816.82 1538.10)">c</text>
<text class="f5 semi" transform="matrix(0.945 0 0 1 1828.61 1538.10)">r</text>
<text class="f5 semi" transform="matrix(0.922 0 0 1 1838.53 1538.10)">i</text>
<text class="f5 semi" transform="matrix(0.821 0 0 1 1845.41 1538.10)">p</text>
<text class="f5 semi" transform="matrix(0.945 0 0 1 1859.32 1538.10)">t</text>
<text class="f5 semi" transform="matrix(0.922 0 0 1 1867.97 1538.10)">i</text>
<text class="f5 semi" transform="matrix(0.849 0 0 1 1874.93 1538.10)">o</text>
<text class="f5 semi" transform="matrix(0.830 0 0 1 1888.99 1538.10)">n</text>
<text class="f6" transform="matrix(0.922 0 0 1 803.75 1593.50)">2</text>
<text class="f6" transform="matrix(0.984 0 0 1 818.49 1593.50)">0</text>
<text class="f6" transform="matrix(0.922 0 0 1 834.15 1593.50)">2</text>
<text class="f6" transform="matrix(0.922 0 0 1 848.87 1593.50)">2</text>
<text class="f6" transform="matrix(1.158 0 0 1 863.35 1593.50)">-</text>
<text class="f6" transform="matrix(0.922 0 0 1 874.39 1593.50)">2</text>
<text class="f6" transform="matrix(0.984 0 0 1 889.13 1593.50)">0</text>
<text class="f6" transform="matrix(0.922 0 0 1 904.80 1593.50)">2</text>
<text class="f6" transform="matrix(0.902 0 0 1 919.63 1593.50)">3</text>
<line x1="827.30" y1="1609.40" x2="1301.60" y2="1609.40" stroke="#c3c6ca" stroke-width="1.2"/>
<text class="f6" transform="matrix(0.761 0 0 1 828.76 1652.50)">C</text>
<text class="f6" transform="matrix(0.998 0 0 1 844.35 1652.50)">l</text>
<text class="f6" transform="matrix(0.998 0 0 1 850.55 1652.50)">i</text>
<text class="f6" transform="matrix(0.905 0 0 1 856.92 1652.50)">n</text>
<text class="f6" transform="matrix(0.998 0 0 1 870.91 1652.50)">i</text>
<text class="f6" transform="matrix(0.843 0 0 1 877.54 1652.50)">c</text>
<text class="f6" transform="matrix(0.720 0 0 1 890.24 1652.50)">a</text>
<text class="f6" transform="matrix(0.998 0 0 1 901.95 1652.50)">l</text>
<text class="f6" transform="matrix(0.802 0 0 1 914.70 1652.50)">V</text>
<text class="f6" transform="matrix(0.802 0 0 1 930.31 1652.50)">L</text>
<text class="f6" transform="matrix(0.751 0 0 1 943.49 1652.50)">R</text>
<text class="f6" transform="matrix(0.874 0 0 1 959.40 1652.50)">T</text>
<text class="f6" transform="matrix(0.998 0 0 1 974.30 1652.50)">I</text>
<text class="f6" transform="matrix(0.855 0 0 1 1105.64 1652.30)">1</text>
<text class="f6" transform="matrix(1.177 0 0 1 1124.03 1652.30)">[</text>
<text class="f6" transform="matrix(0.735 0 0 1 1133.93 1652.30)">R</text>
<text class="f6" transform="matrix(0.825 0 0 1 1149.32 1652.30)">e</text>
<text class="f6" transform="matrix(1.006 0 0 1 1162.79 1652.30)">f</text>
<text class="f6" transform="matrix(0.825 0 0 1 1171.60 1652.30)">e</text>
<text class="f6" transform="matrix(1.006 0 0 1 1184.47 1652.30)">r</text>
<text class="f6" transform="matrix(0.825 0 0 1 1194.58 1652.30)">e</text>
<text class="f6" transform="matrix(0.885 0 0 1 1207.68 1652.30)">n</text>
<text class="f6" transform="matrix(0.825 0 0 1 1221.70 1652.30)">c</text>
<text class="f6" transform="matrix(0.825 0 0 1 1233.92 1652.30)">e</text>
<text class="f6" transform="matrix(1.218 0 0 1 1247.41 1652.30)">]</text>
<line x1="827.30" y1="1668.50" x2="1301.60" y2="1668.50" stroke="#c3c6ca" stroke-width="1.2"/>
<text class="f6" transform="matrix(0.733 0 0 1 828.78 1711.70)">R</text>
<text class="f6" transform="matrix(0.723 0 0 1 844.22 1711.70)">S</text>
<text class="f6" transform="matrix(0.783 0 0 1 858.54 1711.70)">V</text>
<text class="f6" transform="matrix(1.134 0 0 1 873.47 1711.70)">-</text>
<text class="f6" transform="matrix(0.823 0 0 1 884.24 1711.70)">c</text>
<text class="f6" transform="matrix(0.903 0 0 1 896.33 1711.70)">o</text>
<text class="f6" transform="matrix(0.883 0 0 1 910.50 1711.70)">n</text>
<text class="f6" transform="matrix(1.004 0 0 1 924.59 1711.70)">f</text>
<text class="f6" transform="matrix(0.974 0 0 1 932.94 1711.70)">i</text>
<text class="f6" transform="matrix(1.004 0 0 1 938.83 1711.70)">r</text>
<text class="f6" transform="matrix(0.923 0 0 1 948.57 1711.70)">m</text>
<text class="f6" transform="matrix(0.823 0 0 1 969.97 1711.70)">e</text>
<text class="f6" transform="matrix(0.913 0 0 1 983.18 1711.70)">d</text>
<text class="f6" transform="matrix(0.783 0 0 1 1003.38 1711.70)">V</text>
<text class="f6" transform="matrix(0.783 0 0 1 1018.53 1711.70)">L</text>
<text class="f6" transform="matrix(0.733 0 0 1 1031.29 1711.70)">R</text>
<text class="f6" transform="matrix(0.853 0 0 1 1046.73 1711.70)">T</text>
<text class="f6" transform="matrix(0.974 0 0 1 1061.17 1711.70)">I</text>
<text class="f6" transform="matrix(0.743 0 0 1 1068.90 1711.70)">s</text>
<text class="f6" transform="matrix(0.981 0 0 1 1105.07 1711.50)">0</text>
<text class="f6" transform="matrix(1.277 0 0 1 1119.35 1711.50)">.</text>
<text class="f6" transform="matrix(0.899 0 0 1 1128.58 1711.50)">3</text>
<text class="f6" transform="matrix(0.899 0 0 1 1143.03 1711.50)">3</text>
<text class="f6" transform="matrix(1.001 0 0 1 1162.89 1711.50)">(</text>
<text class="f6" transform="matrix(0.981 0 0 1 1173.03 1711.50)">0</text>
<text class="f6" transform="matrix(1.277 0 0 1 1187.31 1711.50)">.</text>
<text class="f6" transform="matrix(0.920 0 0 1 1196.42 1711.50)">2</text>
<text class="f6" transform="matrix(0.981 0 0 1 1211.00 1711.50)">0</text>
<text class="f6" transform="matrix(1.155 0 0 1 1226.28 1711.50)">-</text>
<text class="f6" transform="matrix(0.981 0 0 1 1237.20 1711.50)">0</text>
<text class="f6" transform="matrix(1.277 0 0 1 1251.49 1711.50)">.</text>
<text class="f6" transform="matrix(0.858 0 0 1 1260.74 1711.50)">5</text>
<text class="f6" transform="matrix(0.920 0 0 1 1274.52 1711.50)">2</text>
<text class="f6" transform="matrix(0.909 0 0 1 1289.45 1711.50)">)</text>
<line x1="802.60" y1="1728.20" x2="1301.60" y2="1728.20" stroke="#d5d7da" stroke-width="1.5"/>
<text class="f6" transform="matrix(0.919 0 0 1 803.75 1771.20)">2</text>
<text class="f6" transform="matrix(0.980 0 0 1 818.42 1771.20)">0</text>
<text class="f6" transform="matrix(0.919 0 0 1 834.00 1771.20)">2</text>
<text class="f6" transform="matrix(0.898 0 0 1 848.76 1771.20)">3</text>
<text class="f6" transform="matrix(1.154 0 0 1 862.94 1771.20)">-</text>
<text class="f6" transform="matrix(0.919 0 0 1 873.92 1771.20)">2</text>
<text class="f6" transform="matrix(0.980 0 0 1 888.59 1771.20)">0</text>
<text class="f6" transform="matrix(0.919 0 0 1 904.17 1771.20)">2</text>
<text class="f6" transform="matrix(0.919 0 0 1 919.03 1771.20)">4</text>
<line x1="827.30" y1="1787.50" x2="1301.60" y2="1787.50" stroke="#c3c6ca" stroke-width="1.2"/>
<text class="f6" transform="matrix(0.761 0 0 1 828.76 1830.50)">C</text>
<text class="f6" transform="matrix(0.998 0 0 1 844.35 1830.50)">l</text>
<text class="f6" transform="matrix(0.998 0 0 1 850.55 1830.50)">i</text>
<text class="f6" transform="matrix(0.905 0 0 1 856.92 1830.50)">n</text>
<text class="f6" transform="matrix(0.998 0 0 1 870.91 1830.50)">i</text>
<text class="f6" transform="matrix(0.843 0 0 1 877.54 1830.50)">c</text>
<text class="f6" transform="matrix(0.720 0 0 1 890.24 1830.50)">a</text>
<text class="f6" transform="matrix(0.998 0 0 1 901.95 1830.50)">l</text>
<text class="f6" transform="matrix(0.802 0 0 1 914.70 1830.50)">V</text>
<text class="f6" transform="matrix(0.802 0 0 1 930.31 1830.50)">L</text>
<text class="f6" transform="matrix(0.751 0 0 1 943.49 1830.50)">R</text>
<text class="f6" transform="matrix(0.874 0 0 1 959.40 1830.50)">T</text>
<text class="f6" transform="matrix(0.998 0 0 1 974.30 1830.50)">I</text>
<text class="f6" transform="matrix(0.855 0 0 1 1105.64 1830.30)">1</text>
<text class="f6" transform="matrix(1.177 0 0 1 1124.03 1830.30)">[</text>
<text class="f6" transform="matrix(0.735 0 0 1 1133.93 1830.30)">R</text>
<text class="f6" transform="matrix(0.825 0 0 1 1149.32 1830.30)">e</text>
<text class="f6" transform="matrix(1.006 0 0 1 1162.79 1830.30)">f</text>
<text class="f6" transform="matrix(0.825 0 0 1 1171.60 1830.30)">e</text>
<text class="f6" transform="matrix(1.006 0 0 1 1184.47 1830.30)">r</text>
<text class="f6" transform="matrix(0.825 0 0 1 1194.58 1830.30)">e</text>
<text class="f6" transform="matrix(0.885 0 0 1 1207.68 1830.30)">n</text>
<text class="f6" transform="matrix(0.825 0 0 1 1221.70 1830.30)">c</text>
<text class="f6" transform="matrix(0.825 0 0 1 1233.92 1830.30)">e</text>
<text class="f6" transform="matrix(1.218 0 0 1 1247.41 1830.30)">]</text>
<line x1="827.30" y1="1846.70" x2="1301.60" y2="1846.70" stroke="#c3c6ca" stroke-width="1.2"/>
<text class="f6" transform="matrix(0.733 0 0 1 828.78 1889.70)">R</text>
<text class="f6" transform="matrix(0.723 0 0 1 844.22 1889.70)">S</text>
<text class="f6" transform="matrix(0.783 0 0 1 858.54 1889.70)">V</text>
<text class="f6" transform="matrix(1.134 0 0 1 873.47 1889.70)">-</text>
<text class="f6" transform="matrix(0.823 0 0 1 884.24 1889.70)">c</text>
<text class="f6" transform="matrix(0.903 0 0 1 896.33 1889.70)">o</text>
<text class="f6" transform="matrix(0.883 0 0 1 910.50 1889.70)">n</text>
<text class="f6" transform="matrix(1.004 0 0 1 924.59 1889.70)">f</text>
<text class="f6" transform="matrix(0.974 0 0 1 932.94 1889.70)">i</text>
<text class="f6" transform="matrix(1.004 0 0 1 938.83 1889.70)">r</text>
<text class="f6" transform="matrix(0.923 0 0 1 948.57 1889.70)">m</text>
<text class="f6" transform="matrix(0.823 0 0 1 969.97 1889.70)">e</text>
<text class="f6" transform="matrix(0.913 0 0 1 983.18 1889.70)">d</text>
<text class="f6" transform="matrix(0.783 0 0 1 1003.38 1889.70)">V</text>
<text class="f6" transform="matrix(0.783 0 0 1 1018.53 1889.70)">L</text>
<text class="f6" transform="matrix(0.733 0 0 1 1031.29 1889.70)">R</text>
<text class="f6" transform="matrix(0.853 0 0 1 1046.73 1889.70)">T</text>
<text class="f6" transform="matrix(0.974 0 0 1 1061.17 1889.70)">I</text>
<text class="f6" transform="matrix(0.743 0 0 1 1068.90 1889.70)">s</text>
<text class="f6" transform="matrix(0.982 0 0 1 1105.06 1889.50)">0</text>
<text class="f6" transform="matrix(1.279 0 0 1 1119.38 1889.50)">.</text>
<text class="f6" transform="matrix(0.921 0 0 1 1128.73 1889.50)">4</text>
<text class="f6" transform="matrix(0.870 0 0 1 1143.38 1889.50)">1</text>
<text class="f6" transform="matrix(1.003 0 0 1 1162.81 1889.50)">(</text>
<text class="f6" transform="matrix(0.982 0 0 1 1172.97 1889.50)">0</text>
<text class="f6" transform="matrix(1.279 0 0 1 1187.28 1889.50)">.</text>
<text class="f6" transform="matrix(0.921 0 0 1 1196.41 1889.50)">2</text>
<text class="f6" transform="matrix(0.860 0 0 1 1211.14 1889.50)">5</text>
<text class="f6" transform="matrix(1.156 0 0 1 1224.71 1889.50)">-</text>
<text class="f6" transform="matrix(0.982 0 0 1 1235.65 1889.50)">0</text>
<text class="f6" transform="matrix(1.279 0 0 1 1249.97 1889.50)">.</text>
<text class="f6" transform="matrix(0.982 0 0 1 1259.01 1889.50)">6</text>
<text class="f6" transform="matrix(0.921 0 0 1 1274.48 1889.50)">7</text>
<text class="f6" transform="matrix(0.911 0 0 1 1289.44 1889.50)">)</text>
<line x1="1750.10" y1="1487.15" x2="1750.10" y2="1973.30" stroke="#111" stroke-width="1.8" stroke-dasharray="1.7 3.3"/>
<line x1="1307.70" y1="1973.30" x2="1926.92" y2="1973.30" stroke="#6a6a6a" stroke-width="1.6"/>
<line x1="1308.40" y1="1973.30" x2="1308.40" y2="1981.50" stroke="#6a6a6a" stroke-width="1.4"/>
<line x1="1396.66" y1="1973.30" x2="1396.66" y2="1981.50" stroke="#6a6a6a" stroke-width="1.4"/>
<line x1="1484.92" y1="1973.30" x2="1484.92" y2="1981.50" stroke="#6a6a6a" stroke-width="1.4"/>
<line x1="1573.18" y1="1973.30" x2="1573.18" y2="1981.50" stroke="#6a6a6a" stroke-width="1.4"/>
<line x1="1661.44" y1="1973.30" x2="1661.44" y2="1981.50" stroke="#6a6a6a" stroke-width="1.4"/>
<line x1="1749.70" y1="1973.30" x2="1749.70" y2="1981.50" stroke="#6a6a6a" stroke-width="1.4"/>
<line x1="1837.96" y1="1973.30" x2="1837.96" y2="1981.50" stroke="#6a6a6a" stroke-width="1.4"/>
<line x1="1926.22" y1="1973.30" x2="1926.22" y2="1981.50" stroke="#6a6a6a" stroke-width="1.4"/>
<text class="f7" transform="matrix(0.965 0 0 1 1301.69 2007.70)">0</text>
<text class="f7" transform="matrix(0.960 0 0 1 1380.03 2007.70)">0</text>
<text class="f7" transform="matrix(1.250 0 0 1 1392.85 2007.70)">.</text>
<text class="f7" transform="matrix(0.900 0 0 1 1400.97 2007.70)">2</text>
<text class="f7" transform="matrix(0.956 0 0 1 1468.04 2007.70)">0</text>
<text class="f7" transform="matrix(1.245 0 0 1 1480.78 2007.70)">.</text>
<text class="f7" transform="matrix(0.897 0 0 1 1489.05 2007.70)">4</text>
<text class="f7" transform="matrix(0.947 0 0 1 1556.49 2007.70)">0</text>
<text class="f7" transform="matrix(1.233 0 0 1 1569.01 2007.70)">.</text>
<text class="f7" transform="matrix(0.947 0 0 1 1576.82 2007.70)">6</text>
<text class="f7" transform="matrix(0.955 0 0 1 1644.73 2007.70)">0</text>
<text class="f7" transform="matrix(1.243 0 0 1 1657.43 2007.70)">.</text>
<text class="f7" transform="matrix(0.915 0 0 1 1665.49 2007.70)">8</text>
<text class="f7" transform="matrix(0.859 0 0 1 1732.69 2007.70)">1</text>
<text class="f7" transform="matrix(1.263 0 0 1 1744.22 2007.70)">.</text>
<text class="f7" transform="matrix(0.970 0 0 1 1752.54 2007.70)">0</text>
<text class="f7" transform="matrix(0.874 0 0 1 1821.05 2007.70)">1</text>
<text class="f7" transform="matrix(1.285 0 0 1 1832.92 2007.70)">.</text>
<text class="f7" transform="matrix(0.925 0 0 1 1841.50 2007.70)">2</text>
<text class="f7" transform="matrix(0.870 0 0 1 1909.07 2007.70)">1</text>
<text class="f7" transform="matrix(1.279 0 0 1 1920.87 2007.70)">.</text>
<text class="f7" transform="matrix(0.921 0 0 1 1929.59 2007.70)">4</text>
<text class="f6" transform="matrix(0.744 0 0 1 1551.25 2045.00)">R</text>
<text class="f6" transform="matrix(0.744 0 0 1 1566.84 2045.00)">R</text>
<text class="f6" transform="matrix(0.998 0 0 1 1587.78 2045.00)">(</text>
<text class="f6" transform="matrix(0.917 0 0 1 1597.86 2045.00)">9</text>
<text class="f6" transform="matrix(0.856 0 0 1 1612.53 2045.00)">5</text>
<text class="f6" transform="matrix(0.815 0 0 1 1626.45 2045.00)">%</text>
<text class="f6" transform="matrix(0.754 0 0 1 1652.93 2045.00)">C</text>
<text class="f6" transform="matrix(0.988 0 0 1 1668.09 2045.00)">I</text>
<text class="f6" transform="matrix(0.907 0 0 1 1676.07 2045.00)">)</text>
<rect x="1741.75" y="1631.20" width="16.80" height="16.60" fill="#2e5563"/>
<line x1="1398.60" y1="1698.50" x2="1540.20" y2="1698.50" stroke="#2a2a2a" stroke-width="1.15"/>
<rect x="1448.00" y="1690.20" width="16.80" height="16.60" fill="#2e5563"/>
<rect x="1741.80" y="1809.30" width="16.80" height="16.60" fill="#2e5563"/>
<line x1="1421.00" y1="1877.35" x2="1606.70" y2="1877.35" stroke="#2a2a2a" stroke-width="1.15"/>
<rect x="1483.10" y="1869.05" width="16.80" height="16.60" fill="#2e5563"/>
</svg>
</body></html>
